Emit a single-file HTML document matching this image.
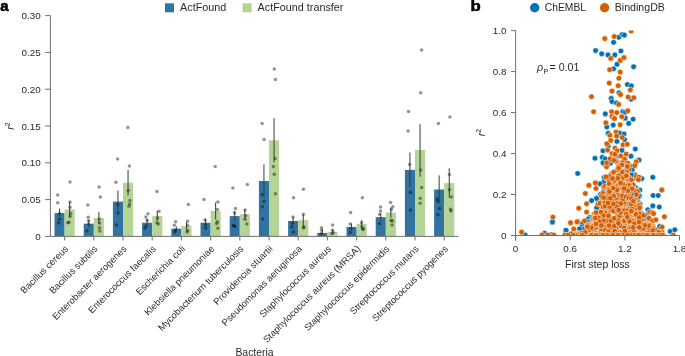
<!DOCTYPE html>
<html><head><meta charset="utf-8"><style>
html,body{margin:0;padding:0;background:#fff;width:685px;height:356px;overflow:hidden;}
</style></head><body>
<svg width="685" height="356" viewBox="0 0 685 356" style="position:absolute;left:0;top:0;font-family:'Liberation Sans', sans-serif;will-change:transform">
<rect width="685" height="356" fill="#fff"/>
<text x="0.3" y="10.9" font-size="15" font-weight="bold" fill="#000" stroke="#000" stroke-width="0.6">a</text>
<rect x="165" y="3.3" width="9" height="9" fill="#3274a1"/>
<text x="180.1" y="11.1" font-size="10.8" fill="#2a2a2a">ActFound</text>
<rect x="242.5" y="3.3" width="9.2" height="9" fill="#b3d495"/>
<text x="257.6" y="11.1" font-size="10.8" fill="#2a2a2a">ActFound transfer</text>
<rect x="54.50" y="213.10" width="10.1" height="23.30" fill="#3274a1"/>
<rect x="64.60" y="209.40" width="10.1" height="27.00" fill="#b3d495"/>
<rect x="83.70" y="223.70" width="10.1" height="12.70" fill="#3274a1"/>
<rect x="93.80" y="218.00" width="10.1" height="18.40" fill="#b3d495"/>
<rect x="112.90" y="201.60" width="10.1" height="34.80" fill="#3274a1"/>
<rect x="123.00" y="182.70" width="10.1" height="53.70" fill="#b3d495"/>
<rect x="142.10" y="222.70" width="10.1" height="13.70" fill="#3274a1"/>
<rect x="152.20" y="215.90" width="10.1" height="20.50" fill="#b3d495"/>
<rect x="171.30" y="228.60" width="10.1" height="7.80" fill="#3274a1"/>
<rect x="181.40" y="226.00" width="10.1" height="10.40" fill="#b3d495"/>
<rect x="200.50" y="222.70" width="10.1" height="13.70" fill="#3274a1"/>
<rect x="210.60" y="210.90" width="10.1" height="25.50" fill="#b3d495"/>
<rect x="229.70" y="216.10" width="10.1" height="20.30" fill="#3274a1"/>
<rect x="239.80" y="214.30" width="10.1" height="22.10" fill="#b3d495"/>
<rect x="258.90" y="181.00" width="10.1" height="55.40" fill="#3274a1"/>
<rect x="269.00" y="140.30" width="10.1" height="96.10" fill="#b3d495"/>
<rect x="288.10" y="221.00" width="10.1" height="15.40" fill="#3274a1"/>
<rect x="298.20" y="220.20" width="10.1" height="16.20" fill="#b3d495"/>
<rect x="317.30" y="233.00" width="10.1" height="3.40" fill="#3274a1"/>
<rect x="327.40" y="232.00" width="10.1" height="4.40" fill="#b3d495"/>
<rect x="346.50" y="226.90" width="10.1" height="9.50" fill="#3274a1"/>
<rect x="356.60" y="223.90" width="10.1" height="12.50" fill="#b3d495"/>
<rect x="375.70" y="217.10" width="10.1" height="19.30" fill="#3274a1"/>
<rect x="385.80" y="212.60" width="10.1" height="23.80" fill="#b3d495"/>
<rect x="404.90" y="169.90" width="10.1" height="66.50" fill="#3274a1"/>
<rect x="415.00" y="150.00" width="10.1" height="86.40" fill="#b3d495"/>
<rect x="434.10" y="189.50" width="10.1" height="46.90" fill="#3274a1"/>
<rect x="444.20" y="183.10" width="10.1" height="53.30" fill="#b3d495"/>
<circle cx="57.7" cy="194.9" r="1.75" fill="#000" fill-opacity="0.42"/>
<circle cx="57.7" cy="202.8" r="1.75" fill="#000" fill-opacity="0.42"/>
<circle cx="59.6" cy="213.6" r="1.75" fill="#000" fill-opacity="0.42"/>
<circle cx="59.6" cy="219.3" r="1.75" fill="#000" fill-opacity="0.42"/>
<circle cx="58.7" cy="222.9" r="1.75" fill="#000" fill-opacity="0.42"/>
<circle cx="70" cy="181.9" r="1.75" fill="#000" fill-opacity="0.42"/>
<circle cx="70" cy="202" r="1.75" fill="#000" fill-opacity="0.42"/>
<circle cx="70" cy="207.2" r="1.75" fill="#000" fill-opacity="0.42"/>
<circle cx="70.5" cy="213.6" r="1.75" fill="#000" fill-opacity="0.42"/>
<circle cx="70" cy="216.6" r="1.75" fill="#000" fill-opacity="0.42"/>
<circle cx="69" cy="222.2" r="1.75" fill="#000" fill-opacity="0.42"/>
<circle cx="67.8" cy="222.8" r="1.75" fill="#000" fill-opacity="0.42"/>
<circle cx="87.8" cy="205" r="1.75" fill="#000" fill-opacity="0.42"/>
<circle cx="88.2" cy="217.2" r="1.75" fill="#000" fill-opacity="0.42"/>
<circle cx="88.5" cy="220.8" r="1.75" fill="#000" fill-opacity="0.42"/>
<circle cx="88.5" cy="224" r="1.75" fill="#000" fill-opacity="0.42"/>
<circle cx="86.9" cy="231" r="1.75" fill="#000" fill-opacity="0.42"/>
<circle cx="99.1" cy="186.9" r="1.75" fill="#000" fill-opacity="0.42"/>
<circle cx="100.4" cy="197.1" r="1.75" fill="#000" fill-opacity="0.42"/>
<circle cx="99.3" cy="219" r="1.75" fill="#000" fill-opacity="0.42"/>
<circle cx="99.5" cy="223" r="1.75" fill="#000" fill-opacity="0.42"/>
<circle cx="99.5" cy="227.8" r="1.75" fill="#000" fill-opacity="0.42"/>
<circle cx="99.8" cy="231" r="1.75" fill="#000" fill-opacity="0.42"/>
<circle cx="117.6" cy="159" r="1.75" fill="#000" fill-opacity="0.42"/>
<circle cx="115.9" cy="182.2" r="1.75" fill="#000" fill-opacity="0.42"/>
<circle cx="117.8" cy="204.5" r="1.75" fill="#000" fill-opacity="0.42"/>
<circle cx="118.1" cy="213" r="1.75" fill="#000" fill-opacity="0.42"/>
<circle cx="116.4" cy="224.9" r="1.75" fill="#000" fill-opacity="0.42"/>
<circle cx="127.9" cy="127.6" r="1.75" fill="#000" fill-opacity="0.42"/>
<circle cx="129.4" cy="166" r="1.75" fill="#000" fill-opacity="0.42"/>
<circle cx="128.2" cy="190.6" r="1.75" fill="#000" fill-opacity="0.42"/>
<circle cx="129.9" cy="200.4" r="1.75" fill="#000" fill-opacity="0.42"/>
<circle cx="129.6" cy="204.1" r="1.75" fill="#000" fill-opacity="0.42"/>
<circle cx="129" cy="206.3" r="1.75" fill="#000" fill-opacity="0.42"/>
<circle cx="148" cy="213.7" r="1.75" fill="#000" fill-opacity="0.42"/>
<circle cx="145.9" cy="217.1" r="1.75" fill="#000" fill-opacity="0.42"/>
<circle cx="147.1" cy="220.2" r="1.75" fill="#000" fill-opacity="0.42"/>
<circle cx="146" cy="226" r="1.75" fill="#000" fill-opacity="0.42"/>
<circle cx="144.8" cy="228.3" r="1.75" fill="#000" fill-opacity="0.42"/>
<circle cx="156.9" cy="191.5" r="1.75" fill="#000" fill-opacity="0.42"/>
<circle cx="159" cy="211.2" r="1.75" fill="#000" fill-opacity="0.42"/>
<circle cx="156.9" cy="222.7" r="1.75" fill="#000" fill-opacity="0.42"/>
<circle cx="158.2" cy="223.9" r="1.75" fill="#000" fill-opacity="0.42"/>
<circle cx="157.5" cy="218" r="1.75" fill="#000" fill-opacity="0.42"/>
<circle cx="175.6" cy="221.8" r="1.75" fill="#000" fill-opacity="0.42"/>
<circle cx="174.4" cy="225.2" r="1.75" fill="#000" fill-opacity="0.42"/>
<circle cx="175.6" cy="230.3" r="1.75" fill="#000" fill-opacity="0.42"/>
<circle cx="174.8" cy="232" r="1.75" fill="#000" fill-opacity="0.42"/>
<circle cx="188.4" cy="204.5" r="1.75" fill="#000" fill-opacity="0.42"/>
<circle cx="187.6" cy="221.3" r="1.75" fill="#000" fill-opacity="0.42"/>
<circle cx="187.6" cy="225.2" r="1.75" fill="#000" fill-opacity="0.42"/>
<circle cx="187.6" cy="230.6" r="1.75" fill="#000" fill-opacity="0.42"/>
<circle cx="187" cy="232" r="1.75" fill="#000" fill-opacity="0.42"/>
<circle cx="203.9" cy="199.4" r="1.75" fill="#000" fill-opacity="0.42"/>
<circle cx="205.6" cy="224.9" r="1.75" fill="#000" fill-opacity="0.42"/>
<circle cx="205.6" cy="228.3" r="1.75" fill="#000" fill-opacity="0.42"/>
<circle cx="205" cy="220" r="1.75" fill="#000" fill-opacity="0.42"/>
<circle cx="215.2" cy="166.4" r="1.75" fill="#000" fill-opacity="0.42"/>
<circle cx="217.9" cy="202.1" r="1.75" fill="#000" fill-opacity="0.42"/>
<circle cx="217.4" cy="209.5" r="1.75" fill="#000" fill-opacity="0.42"/>
<circle cx="217.4" cy="221.8" r="1.75" fill="#000" fill-opacity="0.42"/>
<circle cx="216.6" cy="223.5" r="1.75" fill="#000" fill-opacity="0.42"/>
<circle cx="217.9" cy="228.3" r="1.75" fill="#000" fill-opacity="0.42"/>
<circle cx="232.9" cy="188.1" r="1.75" fill="#000" fill-opacity="0.42"/>
<circle cx="235.5" cy="208.4" r="1.75" fill="#000" fill-opacity="0.42"/>
<circle cx="234.5" cy="212.9" r="1.75" fill="#000" fill-opacity="0.42"/>
<circle cx="233.3" cy="225.2" r="1.75" fill="#000" fill-opacity="0.42"/>
<circle cx="234.1" cy="226" r="1.75" fill="#000" fill-opacity="0.42"/>
<circle cx="235" cy="226.6" r="1.75" fill="#000" fill-opacity="0.42"/>
<circle cx="247.3" cy="184.4" r="1.75" fill="#000" fill-opacity="0.42"/>
<circle cx="245.1" cy="210" r="1.75" fill="#000" fill-opacity="0.42"/>
<circle cx="245.6" cy="215.4" r="1.75" fill="#000" fill-opacity="0.42"/>
<circle cx="245.1" cy="219.3" r="1.75" fill="#000" fill-opacity="0.42"/>
<circle cx="246.8" cy="223.9" r="1.75" fill="#000" fill-opacity="0.42"/>
<circle cx="262.1" cy="123.4" r="1.75" fill="#000" fill-opacity="0.42"/>
<circle cx="264.1" cy="139.6" r="1.75" fill="#000" fill-opacity="0.42"/>
<circle cx="262.4" cy="194.5" r="1.75" fill="#000" fill-opacity="0.42"/>
<circle cx="264" cy="201.6" r="1.75" fill="#000" fill-opacity="0.42"/>
<circle cx="262.4" cy="206.7" r="1.75" fill="#000" fill-opacity="0.42"/>
<circle cx="262.8" cy="219" r="1.75" fill="#000" fill-opacity="0.42"/>
<circle cx="274.3" cy="69" r="1.75" fill="#000" fill-opacity="0.42"/>
<circle cx="275.4" cy="79.4" r="1.75" fill="#000" fill-opacity="0.42"/>
<circle cx="275.1" cy="158.5" r="1.75" fill="#000" fill-opacity="0.42"/>
<circle cx="273.4" cy="166.6" r="1.75" fill="#000" fill-opacity="0.42"/>
<circle cx="274.3" cy="174.2" r="1.75" fill="#000" fill-opacity="0.42"/>
<circle cx="275.4" cy="193.7" r="1.75" fill="#000" fill-opacity="0.42"/>
<circle cx="293.5" cy="197.7" r="1.75" fill="#000" fill-opacity="0.42"/>
<circle cx="293" cy="217.1" r="1.75" fill="#000" fill-opacity="0.42"/>
<circle cx="292.5" cy="223.2" r="1.75" fill="#000" fill-opacity="0.42"/>
<circle cx="291.8" cy="226.9" r="1.75" fill="#000" fill-opacity="0.42"/>
<circle cx="293.5" cy="232" r="1.75" fill="#000" fill-opacity="0.42"/>
<circle cx="303.4" cy="189.3" r="1.75" fill="#000" fill-opacity="0.42"/>
<circle cx="303.4" cy="214.3" r="1.75" fill="#000" fill-opacity="0.42"/>
<circle cx="303.9" cy="226.9" r="1.75" fill="#000" fill-opacity="0.42"/>
<circle cx="303.4" cy="227.7" r="1.75" fill="#000" fill-opacity="0.42"/>
<circle cx="321.6" cy="227.7" r="1.75" fill="#000" fill-opacity="0.42"/>
<circle cx="321.6" cy="230.3" r="1.75" fill="#000" fill-opacity="0.42"/>
<circle cx="321.1" cy="233.6" r="1.75" fill="#000" fill-opacity="0.42"/>
<circle cx="332.6" cy="224.9" r="1.75" fill="#000" fill-opacity="0.42"/>
<circle cx="332.6" cy="230.3" r="1.75" fill="#000" fill-opacity="0.42"/>
<circle cx="333.4" cy="232.8" r="1.75" fill="#000" fill-opacity="0.42"/>
<circle cx="331.9" cy="233.6" r="1.75" fill="#000" fill-opacity="0.42"/>
<circle cx="350.6" cy="212.6" r="1.75" fill="#000" fill-opacity="0.42"/>
<circle cx="350.1" cy="223.9" r="1.75" fill="#000" fill-opacity="0.42"/>
<circle cx="351" cy="228.6" r="1.75" fill="#000" fill-opacity="0.42"/>
<circle cx="350.5" cy="232.5" r="1.75" fill="#000" fill-opacity="0.42"/>
<circle cx="362.4" cy="197.7" r="1.75" fill="#000" fill-opacity="0.42"/>
<circle cx="361.6" cy="222.7" r="1.75" fill="#000" fill-opacity="0.42"/>
<circle cx="361.9" cy="226.9" r="1.75" fill="#000" fill-opacity="0.42"/>
<circle cx="362.8" cy="229.4" r="1.75" fill="#000" fill-opacity="0.42"/>
<circle cx="363.3" cy="228.8" r="1.75" fill="#000" fill-opacity="0.42"/>
<circle cx="380.5" cy="207" r="1.75" fill="#000" fill-opacity="0.42"/>
<circle cx="380.5" cy="210.9" r="1.75" fill="#000" fill-opacity="0.42"/>
<circle cx="379.6" cy="214.3" r="1.75" fill="#000" fill-opacity="0.42"/>
<circle cx="379.6" cy="223.5" r="1.75" fill="#000" fill-opacity="0.42"/>
<circle cx="390.6" cy="202.5" r="1.75" fill="#000" fill-opacity="0.42"/>
<circle cx="392.8" cy="206.7" r="1.75" fill="#000" fill-opacity="0.42"/>
<circle cx="391.4" cy="209.5" r="1.75" fill="#000" fill-opacity="0.42"/>
<circle cx="391.1" cy="220.5" r="1.75" fill="#000" fill-opacity="0.42"/>
<circle cx="392.3" cy="221" r="1.75" fill="#000" fill-opacity="0.42"/>
<circle cx="392" cy="224.9" r="1.75" fill="#000" fill-opacity="0.42"/>
<circle cx="408.5" cy="111.5" r="1.75" fill="#000" fill-opacity="0.42"/>
<circle cx="408.1" cy="131" r="1.75" fill="#000" fill-opacity="0.42"/>
<circle cx="409.6" cy="164.4" r="1.75" fill="#000" fill-opacity="0.42"/>
<circle cx="410.5" cy="192.3" r="1.75" fill="#000" fill-opacity="0.42"/>
<circle cx="410.5" cy="210" r="1.75" fill="#000" fill-opacity="0.42"/>
<circle cx="421.6" cy="50.1" r="1.75" fill="#000" fill-opacity="0.42"/>
<circle cx="420.7" cy="92.8" r="1.75" fill="#000" fill-opacity="0.42"/>
<circle cx="420.6" cy="170" r="1.75" fill="#000" fill-opacity="0.42"/>
<circle cx="421.6" cy="187.6" r="1.75" fill="#000" fill-opacity="0.42"/>
<circle cx="420.2" cy="198.2" r="1.75" fill="#000" fill-opacity="0.42"/>
<circle cx="420.2" cy="203.3" r="1.75" fill="#000" fill-opacity="0.42"/>
<circle cx="438.4" cy="123.6" r="1.75" fill="#000" fill-opacity="0.42"/>
<circle cx="437.4" cy="199.1" r="1.75" fill="#000" fill-opacity="0.42"/>
<circle cx="437.9" cy="201.6" r="1.75" fill="#000" fill-opacity="0.42"/>
<circle cx="439.6" cy="208.4" r="1.75" fill="#000" fill-opacity="0.42"/>
<circle cx="438" cy="214.8" r="1.75" fill="#000" fill-opacity="0.42"/>
<circle cx="449.9" cy="116.9" r="1.75" fill="#000" fill-opacity="0.42"/>
<circle cx="449.4" cy="174.5" r="1.75" fill="#000" fill-opacity="0.42"/>
<circle cx="449.4" cy="189.8" r="1.75" fill="#000" fill-opacity="0.42"/>
<circle cx="451.4" cy="197" r="1.75" fill="#000" fill-opacity="0.42"/>
<circle cx="450.6" cy="209.2" r="1.75" fill="#000" fill-opacity="0.42"/>
<circle cx="450.9" cy="210.9" r="1.75" fill="#000" fill-opacity="0.42"/>
<line x1="59.55" x2="59.55" y1="208.6" y2="217.4" stroke="#3a3a3a" stroke-width="1.0"/>
<line x1="69.65" x2="69.65" y1="202.0" y2="216.8" stroke="#3a3a3a" stroke-width="1.0"/>
<line x1="88.75" x2="88.75" y1="220" y2="227.3" stroke="#3a3a3a" stroke-width="1.0"/>
<line x1="98.85" x2="98.85" y1="211.8" y2="224.2" stroke="#3a3a3a" stroke-width="1.0"/>
<line x1="117.95" x2="117.95" y1="190.6" y2="212.6" stroke="#3a3a3a" stroke-width="1.0"/>
<line x1="128.05" x2="128.05" y1="170" y2="195.4" stroke="#3a3a3a" stroke-width="1.0"/>
<line x1="147.15" x2="147.15" y1="219" y2="226.5" stroke="#3a3a3a" stroke-width="1.0"/>
<line x1="157.25" x2="157.25" y1="210.9" y2="221" stroke="#3a3a3a" stroke-width="1.0"/>
<line x1="176.35" x2="176.35" y1="226.6" y2="230.6" stroke="#3a3a3a" stroke-width="1.0"/>
<line x1="186.45" x2="186.45" y1="222.2" y2="229.8" stroke="#3a3a3a" stroke-width="1.0"/>
<line x1="205.55" x2="205.55" y1="218.5" y2="226.9" stroke="#3a3a3a" stroke-width="1.0"/>
<line x1="215.65" x2="215.65" y1="202.5" y2="219.3" stroke="#3a3a3a" stroke-width="1.0"/>
<line x1="234.75" x2="234.75" y1="210.9" y2="221.3" stroke="#3a3a3a" stroke-width="1.0"/>
<line x1="244.85" x2="244.85" y1="209.2" y2="219.4" stroke="#3a3a3a" stroke-width="1.0"/>
<line x1="263.95" x2="263.95" y1="164.4" y2="197.6" stroke="#3a3a3a" stroke-width="1.0"/>
<line x1="274.05" x2="274.05" y1="118.2" y2="162.4" stroke="#3a3a3a" stroke-width="1.0"/>
<line x1="293.15" x2="293.15" y1="216.8" y2="225.2" stroke="#3a3a3a" stroke-width="1.0"/>
<line x1="303.25" x2="303.25" y1="214.3" y2="226.1" stroke="#3a3a3a" stroke-width="1.0"/>
<line x1="322.35" x2="322.35" y1="229.6" y2="236" stroke="#3a3a3a" stroke-width="1.0"/>
<line x1="332.45" x2="332.45" y1="229.4" y2="234.6" stroke="#3a3a3a" stroke-width="1.0"/>
<line x1="351.55" x2="351.55" y1="223.5" y2="230.3" stroke="#3a3a3a" stroke-width="1.0"/>
<line x1="361.65" x2="361.65" y1="220.2" y2="227.6" stroke="#3a3a3a" stroke-width="1.0"/>
<line x1="380.75" x2="380.75" y1="213.4" y2="220.8" stroke="#3a3a3a" stroke-width="1.0"/>
<line x1="390.85" x2="390.85" y1="207.3" y2="217.9" stroke="#3a3a3a" stroke-width="1.0"/>
<line x1="409.95" x2="409.95" y1="152.6" y2="186.8" stroke="#3a3a3a" stroke-width="1.0"/>
<line x1="420.05" x2="420.05" y1="124.2" y2="176.7" stroke="#3a3a3a" stroke-width="1.0"/>
<line x1="439.15" x2="439.15" y1="175.3" y2="203.6" stroke="#3a3a3a" stroke-width="1.0"/>
<line x1="449.25" x2="449.25" y1="168.3" y2="197.7" stroke="#3a3a3a" stroke-width="1.0"/>
<line x1="50.4" x2="50.4" y1="15.6" y2="236.4" stroke="#707070" stroke-width="1"/>
<line x1="50.4" x2="458.5" y1="236.4" y2="236.4" stroke="#707070" stroke-width="1"/>
<line x1="45.2" x2="50.4" y1="236.40" y2="236.40" stroke="#707070" stroke-width="1"/>
<text x="40.7" y="239.90" font-size="9.9" text-anchor="end" fill="#2a2a2a">0</text>
<line x1="45.2" x2="50.4" y1="199.60" y2="199.60" stroke="#707070" stroke-width="1"/>
<text x="40.7" y="203.10" font-size="9.9" text-anchor="end" fill="#2a2a2a">0.05</text>
<line x1="45.2" x2="50.4" y1="162.80" y2="162.80" stroke="#707070" stroke-width="1"/>
<text x="40.7" y="166.30" font-size="9.9" text-anchor="end" fill="#2a2a2a">0.10</text>
<line x1="45.2" x2="50.4" y1="126.00" y2="126.00" stroke="#707070" stroke-width="1"/>
<text x="40.7" y="129.50" font-size="9.9" text-anchor="end" fill="#2a2a2a">0.15</text>
<line x1="45.2" x2="50.4" y1="89.20" y2="89.20" stroke="#707070" stroke-width="1"/>
<text x="40.7" y="92.70" font-size="9.9" text-anchor="end" fill="#2a2a2a">0.20</text>
<line x1="45.2" x2="50.4" y1="52.40" y2="52.40" stroke="#707070" stroke-width="1"/>
<text x="40.7" y="55.90" font-size="9.9" text-anchor="end" fill="#2a2a2a">0.25</text>
<line x1="45.2" x2="50.4" y1="15.60" y2="15.60" stroke="#707070" stroke-width="1"/>
<text x="40.7" y="19.10" font-size="9.9" text-anchor="end" fill="#2a2a2a">0.30</text>
<line x1="64.60" x2="64.60" y1="236.4" y2="240.4" stroke="#707070" stroke-width="1"/>
<text transform="translate(68.90,249.4) rotate(-45)" font-size="9.4" text-anchor="end" fill="#2a2a2a">Bacillus cereus</text>
<line x1="93.80" x2="93.80" y1="236.4" y2="240.4" stroke="#707070" stroke-width="1"/>
<text transform="translate(98.10,249.4) rotate(-45)" font-size="9.4" text-anchor="end" fill="#2a2a2a">Bacillus subtilis</text>
<line x1="123.00" x2="123.00" y1="236.4" y2="240.4" stroke="#707070" stroke-width="1"/>
<text transform="translate(127.30,249.4) rotate(-45)" font-size="9.4" text-anchor="end" fill="#2a2a2a">Enterobacter aerogenes</text>
<line x1="152.20" x2="152.20" y1="236.4" y2="240.4" stroke="#707070" stroke-width="1"/>
<text transform="translate(156.50,249.4) rotate(-45)" font-size="9.4" text-anchor="end" fill="#2a2a2a">Enterococcus faecalis</text>
<line x1="181.40" x2="181.40" y1="236.4" y2="240.4" stroke="#707070" stroke-width="1"/>
<text transform="translate(185.70,249.4) rotate(-45)" font-size="9.4" text-anchor="end" fill="#2a2a2a">Escherichia coli</text>
<line x1="210.60" x2="210.60" y1="236.4" y2="240.4" stroke="#707070" stroke-width="1"/>
<text transform="translate(214.90,249.4) rotate(-45)" font-size="9.4" text-anchor="end" fill="#2a2a2a">Klebsiella pneumoniae</text>
<line x1="239.80" x2="239.80" y1="236.4" y2="240.4" stroke="#707070" stroke-width="1"/>
<text transform="translate(244.10,249.4) rotate(-45)" font-size="9.4" text-anchor="end" fill="#2a2a2a">Mycobacterium tuberculosis</text>
<line x1="269.00" x2="269.00" y1="236.4" y2="240.4" stroke="#707070" stroke-width="1"/>
<text transform="translate(273.30,249.4) rotate(-45)" font-size="9.4" text-anchor="end" fill="#2a2a2a">Providencia stuartii</text>
<line x1="298.20" x2="298.20" y1="236.4" y2="240.4" stroke="#707070" stroke-width="1"/>
<text transform="translate(302.50,249.4) rotate(-45)" font-size="9.4" text-anchor="end" fill="#2a2a2a">Pseudomonas aeruginosa</text>
<line x1="327.40" x2="327.40" y1="236.4" y2="240.4" stroke="#707070" stroke-width="1"/>
<text transform="translate(331.70,249.4) rotate(-45)" font-size="9.4" text-anchor="end" fill="#2a2a2a">Staphylococcus aureus</text>
<line x1="356.60" x2="356.60" y1="236.4" y2="240.4" stroke="#707070" stroke-width="1"/>
<text transform="translate(360.90,249.4) rotate(-45)" font-size="9.4" text-anchor="end" fill="#2a2a2a">Staphylococcus aureus (MRSA)</text>
<line x1="385.80" x2="385.80" y1="236.4" y2="240.4" stroke="#707070" stroke-width="1"/>
<text transform="translate(390.10,249.4) rotate(-45)" font-size="9.4" text-anchor="end" fill="#2a2a2a">Staphylococcus epidermidis</text>
<line x1="415.00" x2="415.00" y1="236.4" y2="240.4" stroke="#707070" stroke-width="1"/>
<text transform="translate(419.30,249.4) rotate(-45)" font-size="9.4" text-anchor="end" fill="#2a2a2a">Streptococcus mutans</text>
<line x1="444.20" x2="444.20" y1="236.4" y2="240.4" stroke="#707070" stroke-width="1"/>
<text transform="translate(448.50,249.4) rotate(-45)" font-size="9.4" text-anchor="end" fill="#2a2a2a">Streptococcus pyogenes</text>
<text x="254.5" y="355.5" font-size="10.4" text-anchor="middle" fill="#2a2a2a">Bacteria</text>
<text transform="translate(13.9,129.8) rotate(-90)" font-size="10.8" fill="#2a2a2a"><tspan font-style="italic">r</tspan><tspan font-size="7" dy="-4.2">2</tspan></text>
<text transform="translate(470.6,11.1) scale(1.12,1)" font-size="15" font-weight="bold" fill="#000" stroke="#000" stroke-width="0.5">b</text>
<circle cx="534.7" cy="7.8" r="4.7" fill="#0072b2"/>
<text x="544.8" y="11.2" font-size="10.3" fill="#2a2a2a">ChEMBL</text>
<circle cx="604.6" cy="7.8" r="4.7" fill="#d55e00"/>
<text x="614.8" y="11.2" font-size="10.6" fill="#2a2a2a">BindingDB</text>
<defs><clipPath id="cp"><rect x="515.6" y="30.6" width="163.89999999999998" height="204.9"/></clipPath></defs>
<g clip-path="url(#cp)" stroke="#fff" stroke-width="0.5">
<circle cx="625.2" cy="184.5" r="2.8" fill="#0072b2"/>
<circle cx="619.4" cy="187.7" r="2.8" fill="#0072b2"/>
<circle cx="655.5" cy="234.0" r="2.8" fill="#0072b2"/>
<circle cx="603.5" cy="182.0" r="2.8" fill="#0072b2"/>
<circle cx="623.9" cy="221.9" r="2.8" fill="#0072b2"/>
<circle cx="620.7" cy="208.4" r="2.8" fill="#0072b2"/>
<circle cx="606.3" cy="164.8" r="2.8" fill="#0072b2"/>
<circle cx="607.4" cy="211.6" r="2.8" fill="#0072b2"/>
<circle cx="622.4" cy="213.0" r="2.8" fill="#0072b2"/>
<circle cx="647.6" cy="215.3" r="2.8" fill="#0072b2"/>
<circle cx="634.1" cy="226.4" r="2.8" fill="#0072b2"/>
<circle cx="634.7" cy="231.6" r="2.8" fill="#0072b2"/>
<circle cx="609.9" cy="222.3" r="2.8" fill="#0072b2"/>
<circle cx="615.9" cy="210.7" r="2.8" fill="#0072b2"/>
<circle cx="588.6" cy="232.6" r="2.8" fill="#0072b2"/>
<circle cx="615.5" cy="179.9" r="2.8" fill="#0072b2"/>
<circle cx="621.0" cy="232.2" r="2.8" fill="#0072b2"/>
<circle cx="611.1" cy="220.5" r="2.8" fill="#0072b2"/>
<circle cx="606.5" cy="164.7" r="2.8" fill="#0072b2"/>
<circle cx="604.3" cy="164.0" r="2.8" fill="#0072b2"/>
<circle cx="635.3" cy="187.6" r="2.8" fill="#0072b2"/>
<circle cx="618.6" cy="235.3" r="2.8" fill="#0072b2"/>
<circle cx="620.7" cy="200.0" r="2.8" fill="#0072b2"/>
<circle cx="639.5" cy="234.2" r="2.8" fill="#0072b2"/>
<circle cx="593.0" cy="232.4" r="2.8" fill="#0072b2"/>
<circle cx="629.1" cy="220.6" r="2.8" fill="#0072b2"/>
<circle cx="640.4" cy="229.0" r="2.8" fill="#0072b2"/>
<circle cx="632.5" cy="196.2" r="2.8" fill="#0072b2"/>
<circle cx="610.2" cy="233.7" r="2.8" fill="#0072b2"/>
<circle cx="588.5" cy="231.8" r="2.8" fill="#0072b2"/>
<circle cx="605.1" cy="234.3" r="2.8" fill="#0072b2"/>
<circle cx="653.0" cy="230.8" r="2.8" fill="#0072b2"/>
<circle cx="600.1" cy="222.6" r="2.8" fill="#0072b2"/>
<circle cx="614.2" cy="204.5" r="2.8" fill="#0072b2"/>
<circle cx="615.7" cy="199.7" r="2.8" fill="#0072b2"/>
<circle cx="630.0" cy="173.9" r="2.8" fill="#0072b2"/>
<circle cx="622.1" cy="218.5" r="2.8" fill="#0072b2"/>
<circle cx="654.1" cy="231.4" r="2.8" fill="#0072b2"/>
<circle cx="624.8" cy="231.4" r="2.8" fill="#0072b2"/>
<circle cx="585.6" cy="231.5" r="2.8" fill="#0072b2"/>
<circle cx="585.7" cy="235.0" r="2.8" fill="#0072b2"/>
<circle cx="611.3" cy="185.7" r="2.8" fill="#0072b2"/>
<circle cx="621.3" cy="214.7" r="2.8" fill="#0072b2"/>
<circle cx="611.3" cy="193.4" r="2.8" fill="#0072b2"/>
<circle cx="615.6" cy="180.5" r="2.8" fill="#0072b2"/>
<circle cx="642.7" cy="220.8" r="2.8" fill="#0072b2"/>
<circle cx="619.7" cy="180.3" r="2.8" fill="#0072b2"/>
<circle cx="605.4" cy="178.1" r="2.8" fill="#0072b2"/>
<circle cx="617.2" cy="201.8" r="2.8" fill="#0072b2"/>
<circle cx="648.3" cy="230.8" r="2.8" fill="#0072b2"/>
<circle cx="618.7" cy="223.3" r="2.8" fill="#0072b2"/>
<circle cx="601.0" cy="226.0" r="2.8" fill="#0072b2"/>
<circle cx="616.4" cy="194.8" r="2.8" fill="#0072b2"/>
<circle cx="594.7" cy="233.7" r="2.8" fill="#0072b2"/>
<circle cx="605.8" cy="233.2" r="2.8" fill="#0072b2"/>
<circle cx="610.4" cy="163.2" r="2.8" fill="#0072b2"/>
<circle cx="604.3" cy="226.6" r="2.8" fill="#0072b2"/>
<circle cx="642.7" cy="234.6" r="2.8" fill="#0072b2"/>
<circle cx="636.2" cy="208.8" r="2.8" fill="#0072b2"/>
<circle cx="637.9" cy="227.6" r="2.8" fill="#0072b2"/>
<circle cx="619.8" cy="221.6" r="2.8" fill="#0072b2"/>
<circle cx="604.3" cy="177.4" r="2.8" fill="#0072b2"/>
<circle cx="632.9" cy="197.1" r="2.8" fill="#0072b2"/>
<circle cx="609.5" cy="179.1" r="2.8" fill="#0072b2"/>
<circle cx="632.8" cy="215.3" r="2.8" fill="#0072b2"/>
<circle cx="608.3" cy="234.0" r="2.8" fill="#0072b2"/>
<circle cx="599.0" cy="208.7" r="2.8" fill="#0072b2"/>
<circle cx="609.3" cy="160.9" r="2.8" fill="#0072b2"/>
<circle cx="618.9" cy="211.2" r="2.8" fill="#0072b2"/>
<circle cx="615.5" cy="231.0" r="2.8" fill="#0072b2"/>
<circle cx="605.5" cy="194.1" r="2.8" fill="#0072b2"/>
<circle cx="627.0" cy="231.7" r="2.8" fill="#0072b2"/>
<circle cx="649.8" cy="232.2" r="2.8" fill="#0072b2"/>
<circle cx="641.5" cy="213.3" r="2.8" fill="#0072b2"/>
<circle cx="617.7" cy="161.9" r="2.8" fill="#0072b2"/>
<circle cx="650.2" cy="223.6" r="2.8" fill="#0072b2"/>
<circle cx="607.7" cy="228.3" r="2.8" fill="#0072b2"/>
<circle cx="614.6" cy="204.7" r="2.8" fill="#0072b2"/>
<circle cx="612.6" cy="198.7" r="2.8" fill="#0072b2"/>
<circle cx="649.3" cy="232.5" r="2.8" fill="#0072b2"/>
<circle cx="639.6" cy="231.3" r="2.8" fill="#0072b2"/>
<circle cx="604.1" cy="189.9" r="2.8" fill="#0072b2"/>
<circle cx="604.7" cy="194.1" r="2.8" fill="#0072b2"/>
<circle cx="611.3" cy="227.3" r="2.8" fill="#0072b2"/>
<circle cx="620.1" cy="233.4" r="2.8" fill="#0072b2"/>
<circle cx="625.9" cy="161.7" r="2.8" fill="#0072b2"/>
<circle cx="625.8" cy="227.9" r="2.8" fill="#0072b2"/>
<circle cx="650.9" cy="230.3" r="2.8" fill="#0072b2"/>
<circle cx="581.4" cy="233.7" r="2.8" fill="#0072b2"/>
<circle cx="621.3" cy="218.0" r="2.8" fill="#0072b2"/>
<circle cx="597.9" cy="208.9" r="2.8" fill="#0072b2"/>
<circle cx="619.1" cy="168.5" r="2.8" fill="#0072b2"/>
<circle cx="606.9" cy="196.0" r="2.8" fill="#0072b2"/>
<circle cx="601.1" cy="232.8" r="2.8" fill="#0072b2"/>
<circle cx="604.3" cy="211.1" r="2.8" fill="#0072b2"/>
<circle cx="612.2" cy="177.2" r="2.8" fill="#0072b2"/>
<circle cx="609.4" cy="231.9" r="2.8" fill="#0072b2"/>
<circle cx="590.6" cy="230.6" r="2.8" fill="#0072b2"/>
<circle cx="617.9" cy="192.8" r="2.8" fill="#0072b2"/>
<circle cx="611.0" cy="228.0" r="2.8" fill="#0072b2"/>
<circle cx="599.3" cy="228.1" r="2.8" fill="#0072b2"/>
<circle cx="596.9" cy="232.6" r="2.8" fill="#0072b2"/>
<circle cx="604.4" cy="214.3" r="2.8" fill="#0072b2"/>
<circle cx="657.7" cy="229.5" r="2.8" fill="#0072b2"/>
<circle cx="616.1" cy="189.3" r="2.8" fill="#0072b2"/>
<circle cx="590.2" cy="217.1" r="2.8" fill="#0072b2"/>
<circle cx="578.0" cy="234.9" r="2.8" fill="#0072b2"/>
<circle cx="602.1" cy="213.8" r="2.8" fill="#0072b2"/>
<circle cx="589.4" cy="224.2" r="2.8" fill="#0072b2"/>
<circle cx="623.3" cy="223.7" r="2.8" fill="#0072b2"/>
<circle cx="633.4" cy="178.6" r="2.8" fill="#0072b2"/>
<circle cx="592.7" cy="235.2" r="2.8" fill="#0072b2"/>
<circle cx="617.6" cy="235.1" r="2.8" fill="#0072b2"/>
<circle cx="600.8" cy="229.3" r="2.8" fill="#0072b2"/>
<circle cx="662.3" cy="233.8" r="2.8" fill="#0072b2"/>
<circle cx="599.3" cy="225.7" r="2.8" fill="#0072b2"/>
<circle cx="611.2" cy="207.0" r="2.8" fill="#0072b2"/>
<circle cx="607.3" cy="211.4" r="2.8" fill="#0072b2"/>
<circle cx="598.7" cy="201.5" r="2.8" fill="#0072b2"/>
<circle cx="605.3" cy="212.7" r="2.8" fill="#0072b2"/>
<circle cx="629.0" cy="187.6" r="2.8" fill="#0072b2"/>
<circle cx="634.1" cy="175.4" r="2.8" fill="#0072b2"/>
<circle cx="645.7" cy="222.2" r="2.8" fill="#0072b2"/>
<circle cx="639.0" cy="196.6" r="2.8" fill="#0072b2"/>
<circle cx="646.3" cy="228.5" r="2.8" fill="#0072b2"/>
<circle cx="608.0" cy="189.1" r="2.8" fill="#0072b2"/>
<circle cx="639.8" cy="217.4" r="2.8" fill="#0072b2"/>
<circle cx="624.5" cy="193.2" r="2.8" fill="#0072b2"/>
<circle cx="631.3" cy="197.1" r="2.8" fill="#0072b2"/>
<circle cx="596.7" cy="219.1" r="2.8" fill="#0072b2"/>
<circle cx="601.4" cy="195.9" r="2.8" fill="#0072b2"/>
<circle cx="625.3" cy="198.7" r="2.8" fill="#0072b2"/>
<circle cx="588.5" cy="218.9" r="2.8" fill="#0072b2"/>
<circle cx="652.5" cy="235.5" r="2.8" fill="#0072b2"/>
<circle cx="644.1" cy="229.4" r="2.8" fill="#0072b2"/>
<circle cx="605.6" cy="230.5" r="2.8" fill="#0072b2"/>
<circle cx="643.5" cy="217.3" r="2.8" fill="#0072b2"/>
<circle cx="618.3" cy="221.8" r="2.8" fill="#0072b2"/>
<circle cx="598.0" cy="229.7" r="2.8" fill="#0072b2"/>
<circle cx="596.5" cy="198.4" r="2.8" fill="#0072b2"/>
<circle cx="638.2" cy="208.2" r="2.8" fill="#0072b2"/>
<circle cx="634.1" cy="207.7" r="2.8" fill="#0072b2"/>
<circle cx="631.9" cy="203.8" r="2.8" fill="#0072b2"/>
<circle cx="630.3" cy="193.5" r="2.8" fill="#0072b2"/>
<circle cx="636.6" cy="234.6" r="2.8" fill="#0072b2"/>
<circle cx="599.8" cy="183.7" r="2.8" fill="#0072b2"/>
<circle cx="624.7" cy="204.7" r="2.8" fill="#0072b2"/>
<circle cx="639.4" cy="196.0" r="2.8" fill="#0072b2"/>
<circle cx="623.7" cy="171.3" r="2.8" fill="#0072b2"/>
<circle cx="625.8" cy="202.6" r="2.8" fill="#0072b2"/>
<circle cx="643.0" cy="215.6" r="2.8" fill="#0072b2"/>
<circle cx="629.3" cy="178.0" r="2.8" fill="#0072b2"/>
<circle cx="591.5" cy="231.3" r="2.8" fill="#0072b2"/>
<circle cx="638.8" cy="214.2" r="2.8" fill="#0072b2"/>
<circle cx="633.3" cy="216.5" r="2.8" fill="#0072b2"/>
<circle cx="600.6" cy="194.3" r="2.8" fill="#0072b2"/>
<circle cx="625.5" cy="199.7" r="2.8" fill="#0072b2"/>
<circle cx="656.6" cy="233.2" r="2.8" fill="#0072b2"/>
<circle cx="603.2" cy="231.6" r="2.8" fill="#0072b2"/>
<circle cx="597.2" cy="226.7" r="2.8" fill="#0072b2"/>
<circle cx="635.3" cy="228.8" r="2.8" fill="#0072b2"/>
<circle cx="603.8" cy="203.2" r="2.8" fill="#0072b2"/>
<circle cx="640.0" cy="207.2" r="2.8" fill="#0072b2"/>
<circle cx="586.8" cy="230.4" r="2.8" fill="#0072b2"/>
<circle cx="625.4" cy="162.2" r="2.8" fill="#0072b2"/>
<circle cx="623.6" cy="215.8" r="2.8" fill="#0072b2"/>
<circle cx="631.9" cy="168.5" r="2.8" fill="#0072b2"/>
<circle cx="596.7" cy="207.9" r="2.8" fill="#0072b2"/>
<circle cx="606.4" cy="217.4" r="2.8" fill="#0072b2"/>
<circle cx="608.0" cy="192.1" r="2.8" fill="#0072b2"/>
<circle cx="653.7" cy="233.1" r="2.8" fill="#0072b2"/>
<circle cx="613.6" cy="206.9" r="2.8" fill="#0072b2"/>
<circle cx="636.3" cy="200.8" r="2.8" fill="#0072b2"/>
<circle cx="612.9" cy="207.6" r="2.8" fill="#0072b2"/>
<circle cx="615.2" cy="227.0" r="2.8" fill="#0072b2"/>
<circle cx="593.1" cy="227.1" r="2.8" fill="#0072b2"/>
<circle cx="592.2" cy="223.9" r="2.8" fill="#0072b2"/>
<circle cx="610.3" cy="199.6" r="2.8" fill="#0072b2"/>
<circle cx="646.5" cy="215.2" r="2.8" fill="#0072b2"/>
<circle cx="625.4" cy="193.0" r="2.8" fill="#0072b2"/>
<circle cx="614.7" cy="189.4" r="2.8" fill="#0072b2"/>
<circle cx="623.8" cy="195.1" r="2.8" fill="#0072b2"/>
<circle cx="625.1" cy="228.8" r="2.8" fill="#0072b2"/>
<circle cx="600.8" cy="216.8" r="2.8" fill="#0072b2"/>
<circle cx="629.2" cy="224.6" r="2.8" fill="#0072b2"/>
<circle cx="613.8" cy="207.6" r="2.8" fill="#0072b2"/>
<circle cx="614.0" cy="207.7" r="2.8" fill="#0072b2"/>
<circle cx="633.1" cy="230.5" r="2.8" fill="#0072b2"/>
<circle cx="617.3" cy="219.0" r="2.8" fill="#0072b2"/>
<circle cx="624.2" cy="233.9" r="2.8" fill="#0072b2"/>
<circle cx="582.4" cy="231.3" r="2.8" fill="#0072b2"/>
<circle cx="636.7" cy="231.9" r="2.8" fill="#0072b2"/>
<circle cx="609.4" cy="186.9" r="2.8" fill="#0072b2"/>
<circle cx="615.6" cy="190.3" r="2.8" fill="#0072b2"/>
<circle cx="593.4" cy="231.2" r="2.8" fill="#0072b2"/>
<circle cx="598.1" cy="220.8" r="2.8" fill="#0072b2"/>
<circle cx="621.2" cy="195.5" r="2.8" fill="#0072b2"/>
<circle cx="627.0" cy="174.1" r="2.8" fill="#0072b2"/>
<circle cx="587.9" cy="228.7" r="2.8" fill="#0072b2"/>
<circle cx="582.4" cy="223.0" r="2.8" fill="#0072b2"/>
<circle cx="595.9" cy="232.1" r="2.8" fill="#0072b2"/>
<circle cx="605.2" cy="202.1" r="2.8" fill="#0072b2"/>
<circle cx="645.2" cy="225.4" r="2.8" fill="#0072b2"/>
<circle cx="632.8" cy="232.8" r="2.8" fill="#0072b2"/>
<circle cx="624.0" cy="208.2" r="2.8" fill="#0072b2"/>
<circle cx="636.9" cy="228.0" r="2.8" fill="#0072b2"/>
<circle cx="637.4" cy="207.4" r="2.8" fill="#0072b2"/>
<circle cx="642.1" cy="222.7" r="2.8" fill="#0072b2"/>
<circle cx="648.8" cy="233.9" r="2.8" fill="#0072b2"/>
<circle cx="581.4" cy="227.1" r="2.8" fill="#0072b2"/>
<circle cx="633.0" cy="229.8" r="2.8" fill="#0072b2"/>
<circle cx="607.4" cy="229.3" r="2.8" fill="#0072b2"/>
<circle cx="608.5" cy="202.6" r="2.8" fill="#0072b2"/>
<circle cx="625.3" cy="230.8" r="2.8" fill="#0072b2"/>
<circle cx="647.6" cy="221.4" r="2.8" fill="#0072b2"/>
<circle cx="611.3" cy="234.3" r="2.8" fill="#0072b2"/>
<circle cx="624.9" cy="161.2" r="2.8" fill="#0072b2"/>
<circle cx="626.8" cy="169.8" r="2.8" fill="#0072b2"/>
<circle cx="629.1" cy="174.2" r="2.8" fill="#0072b2"/>
<circle cx="625.9" cy="215.3" r="2.8" fill="#0072b2"/>
<circle cx="623.6" cy="160.9" r="2.8" fill="#0072b2"/>
<circle cx="604.6" cy="222.0" r="2.8" fill="#0072b2"/>
<circle cx="640.3" cy="215.3" r="2.8" fill="#0072b2"/>
<circle cx="612.5" cy="196.9" r="2.8" fill="#0072b2"/>
<circle cx="634.8" cy="211.3" r="2.8" fill="#0072b2"/>
<circle cx="625.6" cy="231.6" r="2.8" fill="#0072b2"/>
<circle cx="625.9" cy="222.7" r="2.8" fill="#0072b2"/>
<circle cx="630.0" cy="234.1" r="2.8" fill="#0072b2"/>
<circle cx="633.7" cy="227.3" r="2.8" fill="#0072b2"/>
<circle cx="636.2" cy="203.4" r="2.8" fill="#0072b2"/>
<circle cx="582.6" cy="229.3" r="2.8" fill="#0072b2"/>
<circle cx="628.8" cy="230.6" r="2.8" fill="#0072b2"/>
<circle cx="633.2" cy="194.8" r="2.8" fill="#0072b2"/>
<circle cx="623.2" cy="218.5" r="2.8" fill="#0072b2"/>
<circle cx="602.4" cy="204.7" r="2.8" fill="#0072b2"/>
<circle cx="624.5" cy="219.7" r="2.8" fill="#0072b2"/>
<circle cx="575.0" cy="233.0" r="2.8" fill="#0072b2"/>
<circle cx="639.9" cy="190.1" r="2.8" fill="#0072b2"/>
<circle cx="609.4" cy="232.5" r="2.8" fill="#0072b2"/>
<circle cx="609.0" cy="176.8" r="2.8" fill="#0072b2"/>
<circle cx="584.2" cy="234.7" r="2.8" fill="#0072b2"/>
<circle cx="623.2" cy="211.3" r="2.8" fill="#0072b2"/>
<circle cx="606.7" cy="217.4" r="2.8" fill="#0072b2"/>
<circle cx="617.9" cy="179.5" r="2.8" fill="#0072b2"/>
<circle cx="635.1" cy="174.8" r="2.8" fill="#0072b2"/>
<circle cx="614.1" cy="227.4" r="2.8" fill="#0072b2"/>
<circle cx="614.6" cy="223.8" r="2.8" fill="#0072b2"/>
<circle cx="637.0" cy="201.9" r="2.8" fill="#0072b2"/>
<circle cx="608.8" cy="191.2" r="2.8" fill="#0072b2"/>
<circle cx="593.3" cy="223.6" r="2.8" fill="#0072b2"/>
<circle cx="638.0" cy="197.2" r="2.8" fill="#0072b2"/>
<circle cx="659.4" cy="234.2" r="2.8" fill="#0072b2"/>
<circle cx="616.7" cy="210.7" r="2.8" fill="#0072b2"/>
<circle cx="600.2" cy="230.1" r="2.8" fill="#0072b2"/>
<circle cx="637.5" cy="227.9" r="2.8" fill="#0072b2"/>
<circle cx="615.5" cy="199.9" r="2.8" fill="#0072b2"/>
<circle cx="625.0" cy="229.1" r="2.8" fill="#0072b2"/>
<circle cx="604.7" cy="197.6" r="2.8" fill="#0072b2"/>
<circle cx="597.0" cy="221.5" r="2.8" fill="#0072b2"/>
<circle cx="593.3" cy="223.0" r="2.8" fill="#0072b2"/>
<circle cx="620.8" cy="232.3" r="2.8" fill="#0072b2"/>
<circle cx="589.2" cy="221.9" r="2.8" fill="#0072b2"/>
<circle cx="622.3" cy="174.8" r="2.8" fill="#0072b2"/>
<circle cx="639.8" cy="213.3" r="2.8" fill="#0072b2"/>
<circle cx="595.2" cy="214.4" r="2.8" fill="#0072b2"/>
<circle cx="615.0" cy="181.2" r="2.8" fill="#0072b2"/>
<circle cx="624.0" cy="225.3" r="2.8" fill="#0072b2"/>
<circle cx="638.6" cy="216.6" r="2.8" fill="#0072b2"/>
<circle cx="611.9" cy="231.1" r="2.8" fill="#0072b2"/>
<circle cx="610.4" cy="223.7" r="2.8" fill="#0072b2"/>
<circle cx="604.4" cy="231.3" r="2.8" fill="#0072b2"/>
<circle cx="619.8" cy="208.0" r="2.8" fill="#0072b2"/>
<circle cx="596.7" cy="230.1" r="2.8" fill="#0072b2"/>
<circle cx="601.1" cy="232.1" r="2.8" fill="#0072b2"/>
<circle cx="623.2" cy="209.1" r="2.8" fill="#0072b2"/>
<circle cx="597.5" cy="232.5" r="2.8" fill="#0072b2"/>
<circle cx="620.3" cy="178.4" r="2.8" fill="#0072b2"/>
<circle cx="623.5" cy="223.7" r="2.8" fill="#0072b2"/>
<circle cx="629.5" cy="209.3" r="2.8" fill="#0072b2"/>
<circle cx="622.8" cy="225.3" r="2.8" fill="#0072b2"/>
<circle cx="613.9" cy="193.4" r="2.8" fill="#0072b2"/>
<circle cx="586.5" cy="232.7" r="2.8" fill="#0072b2"/>
<circle cx="611.8" cy="233.0" r="2.8" fill="#0072b2"/>
<circle cx="615.7" cy="206.0" r="2.8" fill="#0072b2"/>
<circle cx="614.0" cy="224.4" r="2.8" fill="#0072b2"/>
<circle cx="639.9" cy="204.1" r="2.8" fill="#0072b2"/>
<circle cx="612.6" cy="232.7" r="2.8" fill="#0072b2"/>
<circle cx="579.6" cy="229.0" r="2.8" fill="#0072b2"/>
<circle cx="612.5" cy="199.8" r="2.8" fill="#0072b2"/>
<circle cx="613.9" cy="233.1" r="2.8" fill="#0072b2"/>
<circle cx="605.1" cy="221.8" r="2.8" fill="#0072b2"/>
<circle cx="621.2" cy="234.2" r="2.8" fill="#0072b2"/>
<circle cx="612.1" cy="235.1" r="2.8" fill="#0072b2"/>
<circle cx="613.3" cy="208.2" r="2.8" fill="#0072b2"/>
<circle cx="630.8" cy="219.7" r="2.8" fill="#0072b2"/>
<circle cx="630.9" cy="223.8" r="2.8" fill="#0072b2"/>
<circle cx="625.8" cy="201.9" r="2.8" fill="#0072b2"/>
<circle cx="592.2" cy="217.6" r="2.8" fill="#0072b2"/>
<circle cx="628.7" cy="164.7" r="2.8" fill="#0072b2"/>
<circle cx="609.0" cy="186.8" r="2.8" fill="#0072b2"/>
<circle cx="618.8" cy="37.2" r="2.8" fill="#0072b2"/>
<circle cx="622.3" cy="34.6" r="2.8" fill="#0072b2"/>
<circle cx="624.4" cy="35.1" r="2.8" fill="#0072b2"/>
<circle cx="613.6" cy="42.3" r="2.8" fill="#0072b2"/>
<circle cx="595.6" cy="50.6" r="2.8" fill="#0072b2"/>
<circle cx="601.7" cy="53.8" r="2.8" fill="#0072b2"/>
<circle cx="608" cy="54.9" r="2.8" fill="#0072b2"/>
<circle cx="614.9" cy="54.9" r="2.8" fill="#0072b2"/>
<circle cx="620.9" cy="51" r="2.8" fill="#0072b2"/>
<circle cx="617" cy="64.3" r="2.8" fill="#0072b2"/>
<circle cx="633.6" cy="66.7" r="2.8" fill="#0072b2"/>
<circle cx="613.6" cy="68.8" r="2.8" fill="#0072b2"/>
<circle cx="627.4" cy="84.5" r="2.8" fill="#0072b2"/>
<circle cx="631.3" cy="85.9" r="2.8" fill="#0072b2"/>
<circle cx="619.1" cy="92.8" r="2.8" fill="#0072b2"/>
<circle cx="631.3" cy="99.2" r="2.8" fill="#0072b2"/>
<circle cx="611.2" cy="98.4" r="2.8" fill="#0072b2"/>
<circle cx="612" cy="101.6" r="2.8" fill="#0072b2"/>
<circle cx="616.5" cy="103" r="2.8" fill="#0072b2"/>
<circle cx="605.3" cy="113.9" r="2.8" fill="#0072b2"/>
<circle cx="622.9" cy="111.7" r="2.8" fill="#0072b2"/>
<circle cx="625.3" cy="112.2" r="2.8" fill="#0072b2"/>
<circle cx="625" cy="118.5" r="2.8" fill="#0072b2"/>
<circle cx="633.1" cy="119.2" r="2.8" fill="#0072b2"/>
<circle cx="625.2" cy="118.1" r="2.8" fill="#0072b2"/>
<circle cx="628.7" cy="123.4" r="2.8" fill="#0072b2"/>
<circle cx="606.8" cy="126.9" r="2.8" fill="#0072b2"/>
<circle cx="613.2" cy="125.1" r="2.8" fill="#0072b2"/>
<circle cx="608.2" cy="133.2" r="2.8" fill="#0072b2"/>
<circle cx="619.8" cy="133" r="2.8" fill="#0072b2"/>
<circle cx="624" cy="134" r="2.8" fill="#0072b2"/>
<circle cx="624.5" cy="139.6" r="2.8" fill="#0072b2"/>
<circle cx="617" cy="141.4" r="2.8" fill="#0072b2"/>
<circle cx="608.2" cy="146.2" r="2.8" fill="#0072b2"/>
<circle cx="635.3" cy="149" r="2.8" fill="#0072b2"/>
<circle cx="603" cy="150.8" r="2.8" fill="#0072b2"/>
<circle cx="621.9" cy="150.4" r="2.8" fill="#0072b2"/>
<circle cx="630.8" cy="156" r="2.8" fill="#0072b2"/>
<circle cx="595" cy="158.2" r="2.8" fill="#0072b2"/>
<circle cx="602.3" cy="157.4" r="2.8" fill="#0072b2"/>
<circle cx="605.1" cy="158.8" r="2.8" fill="#0072b2"/>
<circle cx="616.3" cy="157.8" r="2.8" fill="#0072b2"/>
<circle cx="638.8" cy="160.2" r="2.8" fill="#0072b2"/>
<circle cx="603" cy="162.7" r="2.8" fill="#0072b2"/>
<circle cx="577.7" cy="173.5" r="2.8" fill="#0072b2"/>
<circle cx="591.6" cy="200.6" r="2.8" fill="#0072b2"/>
<circle cx="552.2" cy="222.2" r="2.8" fill="#0072b2"/>
<circle cx="566.1" cy="230.5" r="2.8" fill="#0072b2"/>
<circle cx="525.2" cy="235" r="2.8" fill="#0072b2"/>
<circle cx="544.6" cy="233.3" r="2.8" fill="#0072b2"/>
<circle cx="551.5" cy="234.7" r="2.8" fill="#0072b2"/>
<circle cx="571.5" cy="233.8" r="2.8" fill="#0072b2"/>
<circle cx="552.5" cy="221.9" r="2.8" fill="#0072b2"/>
<circle cx="566" cy="230.2" r="2.8" fill="#0072b2"/>
<circle cx="630.9" cy="156.2" r="2.8" fill="#0072b2"/>
<circle cx="639" cy="160.1" r="2.8" fill="#0072b2"/>
<circle cx="632" cy="166.7" r="2.8" fill="#0072b2"/>
<circle cx="632.3" cy="169.5" r="2.8" fill="#0072b2"/>
<circle cx="631.7" cy="175.1" r="2.8" fill="#0072b2"/>
<circle cx="641.9" cy="178.6" r="2.8" fill="#0072b2"/>
<circle cx="652.8" cy="177.2" r="2.8" fill="#0072b2"/>
<circle cx="634.1" cy="189.2" r="2.8" fill="#0072b2"/>
<circle cx="653.1" cy="195.5" r="2.8" fill="#0072b2"/>
<circle cx="658.2" cy="195.5" r="2.8" fill="#0072b2"/>
<circle cx="652.8" cy="205.9" r="2.8" fill="#0072b2"/>
<circle cx="659.3" cy="207" r="2.8" fill="#0072b2"/>
<circle cx="647.9" cy="209.7" r="2.8" fill="#0072b2"/>
<circle cx="645.1" cy="216.7" r="2.8" fill="#0072b2"/>
<circle cx="656.7" cy="229.5" r="2.8" fill="#0072b2"/>
<circle cx="651.3" cy="230.2" r="2.8" fill="#0072b2"/>
<circle cx="659.8" cy="226.4" r="2.8" fill="#0072b2"/>
<circle cx="670.2" cy="231.4" r="2.8" fill="#0072b2"/>
<circle cx="674.8" cy="229.8" r="2.8" fill="#0072b2"/>
<circle cx="631.2" cy="30.9" r="2.8" fill="#d55e00"/>
<circle cx="604.8" cy="38.6" r="2.8" fill="#d55e00"/>
<circle cx="614.2" cy="36.5" r="2.8" fill="#d55e00"/>
<circle cx="610.8" cy="58.4" r="2.8" fill="#d55e00"/>
<circle cx="620.2" cy="60.4" r="2.8" fill="#d55e00"/>
<circle cx="624" cy="57.6" r="2.8" fill="#d55e00"/>
<circle cx="609.7" cy="69.7" r="2.8" fill="#d55e00"/>
<circle cx="620.2" cy="72.1" r="2.8" fill="#d55e00"/>
<circle cx="618.9" cy="78.2" r="2.8" fill="#d55e00"/>
<circle cx="609.2" cy="83.1" r="2.8" fill="#d55e00"/>
<circle cx="618.2" cy="85.7" r="2.8" fill="#d55e00"/>
<circle cx="630.3" cy="90" r="2.8" fill="#d55e00"/>
<circle cx="612" cy="91.1" r="2.8" fill="#d55e00"/>
<circle cx="620.5" cy="94.6" r="2.8" fill="#d55e00"/>
<circle cx="591.5" cy="96.7" r="2.8" fill="#d55e00"/>
<circle cx="628.1" cy="97" r="2.8" fill="#d55e00"/>
<circle cx="633.8" cy="97.7" r="2.8" fill="#d55e00"/>
<circle cx="618.7" cy="104.4" r="2.8" fill="#d55e00"/>
<circle cx="593.6" cy="111.7" r="2.8" fill="#d55e00"/>
<circle cx="611.6" cy="111.7" r="2.8" fill="#d55e00"/>
<circle cx="616.8" cy="112.6" r="2.8" fill="#d55e00"/>
<circle cx="627.8" cy="110.8" r="2.8" fill="#d55e00"/>
<circle cx="612" cy="116.4" r="2.8" fill="#d55e00"/>
<circle cx="613.7" cy="118.5" r="2.8" fill="#d55e00"/>
<circle cx="621.9" cy="116.8" r="2.8" fill="#d55e00"/>
<circle cx="614.6" cy="118.5" r="2.8" fill="#d55e00"/>
<circle cx="621.9" cy="116.7" r="2.8" fill="#d55e00"/>
<circle cx="605.8" cy="122.7" r="2.8" fill="#d55e00"/>
<circle cx="620.2" cy="124.8" r="2.8" fill="#d55e00"/>
<circle cx="616" cy="132.1" r="2.8" fill="#d55e00"/>
<circle cx="610" cy="135.4" r="2.8" fill="#d55e00"/>
<circle cx="616.6" cy="136.1" r="2.8" fill="#d55e00"/>
<circle cx="622.2" cy="137.5" r="2.8" fill="#d55e00"/>
<circle cx="610.7" cy="140.5" r="2.8" fill="#d55e00"/>
<circle cx="606.8" cy="143.8" r="2.8" fill="#d55e00"/>
<circle cx="623.1" cy="144.8" r="2.8" fill="#d55e00"/>
<circle cx="627.3" cy="144.2" r="2.8" fill="#d55e00"/>
<circle cx="614.9" cy="148" r="2.8" fill="#d55e00"/>
<circle cx="607.6" cy="150.1" r="2.8" fill="#d55e00"/>
<circle cx="617" cy="150.8" r="2.8" fill="#d55e00"/>
<circle cx="612.1" cy="153.6" r="2.8" fill="#d55e00"/>
<circle cx="614.9" cy="154.3" r="2.8" fill="#d55e00"/>
<circle cx="626.1" cy="154.3" r="2.8" fill="#d55e00"/>
<circle cx="620.8" cy="156" r="2.8" fill="#d55e00"/>
<circle cx="610" cy="158.8" r="2.8" fill="#d55e00"/>
<circle cx="624.7" cy="159.2" r="2.8" fill="#d55e00"/>
<circle cx="636.2" cy="162" r="2.8" fill="#d55e00"/>
<circle cx="617" cy="162" r="2.8" fill="#d55e00"/>
<circle cx="622.6" cy="162.7" r="2.8" fill="#d55e00"/>
<circle cx="627.5" cy="163.4" r="2.8" fill="#d55e00"/>
<circle cx="588.9" cy="185.4" r="2.8" fill="#d55e00"/>
<circle cx="595.4" cy="182.9" r="2.8" fill="#d55e00"/>
<circle cx="596" cy="188.5" r="2.8" fill="#d55e00"/>
<circle cx="585.3" cy="193.5" r="2.8" fill="#d55e00"/>
<circle cx="586.6" cy="203.7" r="2.8" fill="#d55e00"/>
<circle cx="578.7" cy="208.2" r="2.8" fill="#d55e00"/>
<circle cx="586.6" cy="212" r="2.8" fill="#d55e00"/>
<circle cx="552.9" cy="217.1" r="2.8" fill="#d55e00"/>
<circle cx="570.6" cy="222.9" r="2.8" fill="#d55e00"/>
<circle cx="577.7" cy="221.4" r="2.8" fill="#d55e00"/>
<circle cx="584.6" cy="220.9" r="2.8" fill="#d55e00"/>
<circle cx="573.7" cy="229" r="2.8" fill="#d55e00"/>
<circle cx="521.6" cy="232.1" r="2.8" fill="#d55e00"/>
<circle cx="542" cy="235" r="2.8" fill="#d55e00"/>
<circle cx="547.7" cy="235" r="2.8" fill="#d55e00"/>
<circle cx="553.9" cy="235" r="2.8" fill="#d55e00"/>
<circle cx="564.8" cy="235" r="2.8" fill="#d55e00"/>
<circle cx="568.1" cy="235" r="2.8" fill="#d55e00"/>
<circle cx="570.5" cy="222.8" r="2.8" fill="#d55e00"/>
<circle cx="577.1" cy="221.9" r="2.8" fill="#d55e00"/>
<circle cx="573.8" cy="229" r="2.8" fill="#d55e00"/>
<circle cx="577.6" cy="233.3" r="2.8" fill="#d55e00"/>
<circle cx="626.1" cy="154" r="2.8" fill="#d55e00"/>
<circle cx="636.2" cy="161.8" r="2.8" fill="#d55e00"/>
<circle cx="627.8" cy="163.2" r="2.8" fill="#d55e00"/>
<circle cx="627.5" cy="166" r="2.8" fill="#d55e00"/>
<circle cx="634.8" cy="165.6" r="2.8" fill="#d55e00"/>
<circle cx="629.2" cy="169.5" r="2.8" fill="#d55e00"/>
<circle cx="626.4" cy="172.3" r="2.8" fill="#d55e00"/>
<circle cx="636.2" cy="176.3" r="2.8" fill="#d55e00"/>
<circle cx="639" cy="177.2" r="2.8" fill="#d55e00"/>
<circle cx="638.3" cy="179.6" r="2.8" fill="#d55e00"/>
<circle cx="629.2" cy="177.9" r="2.8" fill="#d55e00"/>
<circle cx="631.3" cy="180" r="2.8" fill="#d55e00"/>
<circle cx="626.4" cy="181" r="2.8" fill="#d55e00"/>
<circle cx="633.1" cy="184.7" r="2.8" fill="#d55e00"/>
<circle cx="661.8" cy="189.5" r="2.8" fill="#d55e00"/>
<circle cx="661.8" cy="190.1" r="2.8" fill="#d55e00"/>
<circle cx="649.7" cy="212" r="2.8" fill="#d55e00"/>
<circle cx="652.1" cy="212.5" r="2.8" fill="#d55e00"/>
<circle cx="653.6" cy="213.6" r="2.8" fill="#d55e00"/>
<circle cx="664.4" cy="216.7" r="2.8" fill="#d55e00"/>
<circle cx="649" cy="218.2" r="2.8" fill="#d55e00"/>
<circle cx="652.8" cy="220.9" r="2.8" fill="#d55e00"/>
<circle cx="655.9" cy="219.8" r="2.8" fill="#d55e00"/>
<circle cx="647.9" cy="225.5" r="2.8" fill="#d55e00"/>
<circle cx="652.8" cy="226" r="2.8" fill="#d55e00"/>
<circle cx="662.1" cy="227.1" r="2.8" fill="#d55e00"/>
<circle cx="616.2" cy="204.1" r="2.8" fill="#d55e00"/>
<circle cx="633.3" cy="189.2" r="2.8" fill="#d55e00"/>
<circle cx="630.2" cy="232.7" r="2.8" fill="#d55e00"/>
<circle cx="624.6" cy="221.8" r="2.8" fill="#d55e00"/>
<circle cx="659.1" cy="232.8" r="2.8" fill="#d55e00"/>
<circle cx="639.5" cy="226.3" r="2.8" fill="#d55e00"/>
<circle cx="619.9" cy="202.6" r="2.8" fill="#d55e00"/>
<circle cx="601.7" cy="222.6" r="2.8" fill="#d55e00"/>
<circle cx="623.5" cy="178.0" r="2.8" fill="#d55e00"/>
<circle cx="626.0" cy="185.9" r="2.8" fill="#d55e00"/>
<circle cx="614.5" cy="223.3" r="2.8" fill="#d55e00"/>
<circle cx="642.1" cy="214.8" r="2.8" fill="#d55e00"/>
<circle cx="596.0" cy="232.1" r="2.8" fill="#d55e00"/>
<circle cx="626.8" cy="194.3" r="2.8" fill="#d55e00"/>
<circle cx="607.4" cy="204.5" r="2.8" fill="#d55e00"/>
<circle cx="634.7" cy="206.1" r="2.8" fill="#d55e00"/>
<circle cx="629.7" cy="201.1" r="2.8" fill="#d55e00"/>
<circle cx="613.8" cy="203.0" r="2.8" fill="#d55e00"/>
<circle cx="629.4" cy="224.5" r="2.8" fill="#d55e00"/>
<circle cx="612.8" cy="182.5" r="2.8" fill="#d55e00"/>
<circle cx="625.1" cy="177.2" r="2.8" fill="#d55e00"/>
<circle cx="648.5" cy="228.9" r="2.8" fill="#d55e00"/>
<circle cx="602.7" cy="225.3" r="2.8" fill="#d55e00"/>
<circle cx="613.9" cy="210.3" r="2.8" fill="#d55e00"/>
<circle cx="594.2" cy="214.0" r="2.8" fill="#d55e00"/>
<circle cx="612.4" cy="188.9" r="2.8" fill="#d55e00"/>
<circle cx="633.6" cy="208.4" r="2.8" fill="#d55e00"/>
<circle cx="607.0" cy="206.0" r="2.8" fill="#d55e00"/>
<circle cx="628.7" cy="216.8" r="2.8" fill="#d55e00"/>
<circle cx="591.5" cy="222.8" r="2.8" fill="#d55e00"/>
<circle cx="656.0" cy="231.7" r="2.8" fill="#d55e00"/>
<circle cx="615.1" cy="222.9" r="2.8" fill="#d55e00"/>
<circle cx="640.4" cy="230.4" r="2.8" fill="#d55e00"/>
<circle cx="620.9" cy="221.1" r="2.8" fill="#d55e00"/>
<circle cx="623.7" cy="233.5" r="2.8" fill="#d55e00"/>
<circle cx="614.3" cy="178.9" r="2.8" fill="#d55e00"/>
<circle cx="612.2" cy="191.2" r="2.8" fill="#d55e00"/>
<circle cx="605.7" cy="210.8" r="2.8" fill="#d55e00"/>
<circle cx="602.5" cy="230.9" r="2.8" fill="#d55e00"/>
<circle cx="623.1" cy="227.1" r="2.8" fill="#d55e00"/>
<circle cx="603.8" cy="187.3" r="2.8" fill="#d55e00"/>
<circle cx="612.3" cy="194.0" r="2.8" fill="#d55e00"/>
<circle cx="630.0" cy="216.9" r="2.8" fill="#d55e00"/>
<circle cx="584.2" cy="234.3" r="2.8" fill="#d55e00"/>
<circle cx="598.6" cy="230.9" r="2.8" fill="#d55e00"/>
<circle cx="597.3" cy="223.6" r="2.8" fill="#d55e00"/>
<circle cx="642.2" cy="230.2" r="2.8" fill="#d55e00"/>
<circle cx="629.7" cy="184.8" r="2.8" fill="#d55e00"/>
<circle cx="619.3" cy="231.6" r="2.8" fill="#d55e00"/>
<circle cx="626.4" cy="204.0" r="2.8" fill="#d55e00"/>
<circle cx="578.6" cy="233.5" r="2.8" fill="#d55e00"/>
<circle cx="625.1" cy="192.2" r="2.8" fill="#d55e00"/>
<circle cx="602.9" cy="228.5" r="2.8" fill="#d55e00"/>
<circle cx="604.8" cy="186.4" r="2.8" fill="#d55e00"/>
<circle cx="621.4" cy="206.2" r="2.8" fill="#d55e00"/>
<circle cx="632.2" cy="232.2" r="2.8" fill="#d55e00"/>
<circle cx="595.5" cy="227.1" r="2.8" fill="#d55e00"/>
<circle cx="589.6" cy="227.5" r="2.8" fill="#d55e00"/>
<circle cx="589.9" cy="225.4" r="2.8" fill="#d55e00"/>
<circle cx="618.2" cy="200.2" r="2.8" fill="#d55e00"/>
<circle cx="621.5" cy="202.0" r="2.8" fill="#d55e00"/>
<circle cx="614.4" cy="204.6" r="2.8" fill="#d55e00"/>
<circle cx="633.4" cy="225.5" r="2.8" fill="#d55e00"/>
<circle cx="633.9" cy="218.7" r="2.8" fill="#d55e00"/>
<circle cx="622.5" cy="188.2" r="2.8" fill="#d55e00"/>
<circle cx="637.9" cy="213.6" r="2.8" fill="#d55e00"/>
<circle cx="635.9" cy="226.0" r="2.8" fill="#d55e00"/>
<circle cx="623.5" cy="214.7" r="2.8" fill="#d55e00"/>
<circle cx="644.0" cy="220.9" r="2.8" fill="#d55e00"/>
<circle cx="597.9" cy="204.1" r="2.8" fill="#d55e00"/>
<circle cx="621.3" cy="220.7" r="2.8" fill="#d55e00"/>
<circle cx="632.6" cy="188.9" r="2.8" fill="#d55e00"/>
<circle cx="606.0" cy="231.9" r="2.8" fill="#d55e00"/>
<circle cx="610.7" cy="206.3" r="2.8" fill="#d55e00"/>
<circle cx="604.1" cy="204.7" r="2.8" fill="#d55e00"/>
<circle cx="621.8" cy="186.8" r="2.8" fill="#d55e00"/>
<circle cx="617.6" cy="185.3" r="2.8" fill="#d55e00"/>
<circle cx="587.3" cy="234.8" r="2.8" fill="#d55e00"/>
<circle cx="607.2" cy="210.9" r="2.8" fill="#d55e00"/>
<circle cx="621.5" cy="197.9" r="2.8" fill="#d55e00"/>
<circle cx="625.9" cy="235.2" r="2.8" fill="#d55e00"/>
<circle cx="608.2" cy="208.1" r="2.8" fill="#d55e00"/>
<circle cx="602.9" cy="231.1" r="2.8" fill="#d55e00"/>
<circle cx="613.2" cy="190.8" r="2.8" fill="#d55e00"/>
<circle cx="604.4" cy="203.1" r="2.8" fill="#d55e00"/>
<circle cx="604.6" cy="204.2" r="2.8" fill="#d55e00"/>
<circle cx="600.1" cy="228.2" r="2.8" fill="#d55e00"/>
<circle cx="597.0" cy="225.5" r="2.8" fill="#d55e00"/>
<circle cx="631.8" cy="205.6" r="2.8" fill="#d55e00"/>
<circle cx="592.1" cy="226.4" r="2.8" fill="#d55e00"/>
<circle cx="648.9" cy="226.4" r="2.8" fill="#d55e00"/>
<circle cx="616.1" cy="185.6" r="2.8" fill="#d55e00"/>
<circle cx="616.7" cy="205.3" r="2.8" fill="#d55e00"/>
<circle cx="596.6" cy="214.9" r="2.8" fill="#d55e00"/>
<circle cx="599.8" cy="234.1" r="2.8" fill="#d55e00"/>
<circle cx="617.4" cy="170.0" r="2.8" fill="#d55e00"/>
<circle cx="606.6" cy="166.8" r="2.8" fill="#d55e00"/>
<circle cx="607.8" cy="187.7" r="2.8" fill="#d55e00"/>
<circle cx="626.9" cy="172.3" r="2.8" fill="#d55e00"/>
<circle cx="636.5" cy="228.5" r="2.8" fill="#d55e00"/>
<circle cx="596.0" cy="231.6" r="2.8" fill="#d55e00"/>
<circle cx="607.9" cy="192.9" r="2.8" fill="#d55e00"/>
<circle cx="636.3" cy="225.9" r="2.8" fill="#d55e00"/>
<circle cx="607.4" cy="222.4" r="2.8" fill="#d55e00"/>
<circle cx="643.9" cy="225.4" r="2.8" fill="#d55e00"/>
<circle cx="575.5" cy="235.4" r="2.8" fill="#d55e00"/>
<circle cx="657.1" cy="233.9" r="2.8" fill="#d55e00"/>
<circle cx="610.2" cy="211.8" r="2.8" fill="#d55e00"/>
<circle cx="649.3" cy="229.6" r="2.8" fill="#d55e00"/>
<circle cx="595.7" cy="234.3" r="2.8" fill="#d55e00"/>
<circle cx="617.5" cy="226.6" r="2.8" fill="#d55e00"/>
<circle cx="613.0" cy="198.0" r="2.8" fill="#d55e00"/>
<circle cx="600.7" cy="215.4" r="2.8" fill="#d55e00"/>
<circle cx="625.7" cy="187.5" r="2.8" fill="#d55e00"/>
<circle cx="640.1" cy="234.5" r="2.8" fill="#d55e00"/>
<circle cx="637.6" cy="191.1" r="2.8" fill="#d55e00"/>
<circle cx="608.4" cy="188.6" r="2.8" fill="#d55e00"/>
<circle cx="637.9" cy="201.6" r="2.8" fill="#d55e00"/>
<circle cx="632.4" cy="235.4" r="2.8" fill="#d55e00"/>
<circle cx="629.6" cy="216.3" r="2.8" fill="#d55e00"/>
<circle cx="623.1" cy="201.2" r="2.8" fill="#d55e00"/>
<circle cx="597.6" cy="221.7" r="2.8" fill="#d55e00"/>
<circle cx="627.1" cy="222.3" r="2.8" fill="#d55e00"/>
<circle cx="609.9" cy="225.8" r="2.8" fill="#d55e00"/>
<circle cx="614.2" cy="179.1" r="2.8" fill="#d55e00"/>
<circle cx="615.2" cy="220.9" r="2.8" fill="#d55e00"/>
<circle cx="615.5" cy="235.6" r="2.8" fill="#d55e00"/>
<circle cx="628.1" cy="217.5" r="2.8" fill="#d55e00"/>
<circle cx="604.8" cy="203.2" r="2.8" fill="#d55e00"/>
<circle cx="608.8" cy="214.4" r="2.8" fill="#d55e00"/>
<circle cx="613.0" cy="225.1" r="2.8" fill="#d55e00"/>
<circle cx="617.1" cy="188.2" r="2.8" fill="#d55e00"/>
<circle cx="626.5" cy="214.0" r="2.8" fill="#d55e00"/>
<circle cx="627.5" cy="185.0" r="2.8" fill="#d55e00"/>
<circle cx="623.2" cy="217.4" r="2.8" fill="#d55e00"/>
<circle cx="616.5" cy="223.6" r="2.8" fill="#d55e00"/>
<circle cx="617.8" cy="227.5" r="2.8" fill="#d55e00"/>
<circle cx="625.8" cy="190.4" r="2.8" fill="#d55e00"/>
<circle cx="602.0" cy="218.4" r="2.8" fill="#d55e00"/>
<circle cx="655.2" cy="235.7" r="2.8" fill="#d55e00"/>
<circle cx="611.9" cy="191.9" r="2.8" fill="#d55e00"/>
<circle cx="597.7" cy="224.9" r="2.8" fill="#d55e00"/>
<circle cx="610.7" cy="202.2" r="2.8" fill="#d55e00"/>
<circle cx="608.9" cy="202.8" r="2.8" fill="#d55e00"/>
<circle cx="630.6" cy="220.3" r="2.8" fill="#d55e00"/>
<circle cx="615.3" cy="220.8" r="2.8" fill="#d55e00"/>
<circle cx="650.5" cy="230.9" r="2.8" fill="#d55e00"/>
<circle cx="634.6" cy="208.5" r="2.8" fill="#d55e00"/>
<circle cx="604.1" cy="211.2" r="2.8" fill="#d55e00"/>
<circle cx="646.0" cy="223.5" r="2.8" fill="#d55e00"/>
<circle cx="633.1" cy="232.1" r="2.8" fill="#d55e00"/>
<circle cx="620.9" cy="204.1" r="2.8" fill="#d55e00"/>
<circle cx="577.3" cy="234.3" r="2.8" fill="#d55e00"/>
<circle cx="620.2" cy="208.6" r="2.8" fill="#d55e00"/>
<circle cx="627.5" cy="215.2" r="2.8" fill="#d55e00"/>
<circle cx="622.7" cy="235.5" r="2.8" fill="#d55e00"/>
<circle cx="641.8" cy="216.9" r="2.8" fill="#d55e00"/>
<circle cx="646.9" cy="224.1" r="2.8" fill="#d55e00"/>
<circle cx="659.4" cy="233.3" r="2.8" fill="#d55e00"/>
<circle cx="628.2" cy="194.1" r="2.8" fill="#d55e00"/>
<circle cx="620.7" cy="182.6" r="2.8" fill="#d55e00"/>
<circle cx="619.4" cy="195.0" r="2.8" fill="#d55e00"/>
<circle cx="602.5" cy="210.3" r="2.8" fill="#d55e00"/>
<circle cx="648.1" cy="231.4" r="2.8" fill="#d55e00"/>
<circle cx="593.1" cy="226.2" r="2.8" fill="#d55e00"/>
<circle cx="617.3" cy="200.6" r="2.8" fill="#d55e00"/>
<circle cx="610.5" cy="175.4" r="2.8" fill="#d55e00"/>
<circle cx="646.4" cy="226.1" r="2.8" fill="#d55e00"/>
<circle cx="634.2" cy="199.3" r="2.8" fill="#d55e00"/>
<circle cx="622.4" cy="203.9" r="2.8" fill="#d55e00"/>
<circle cx="617.8" cy="220.0" r="2.8" fill="#d55e00"/>
<circle cx="636.0" cy="216.5" r="2.8" fill="#d55e00"/>
<circle cx="614.1" cy="220.8" r="2.8" fill="#d55e00"/>
<circle cx="651.3" cy="226.0" r="2.8" fill="#d55e00"/>
<circle cx="618.7" cy="194.7" r="2.8" fill="#d55e00"/>
<circle cx="635.1" cy="228.8" r="2.8" fill="#d55e00"/>
<circle cx="611.4" cy="231.4" r="2.8" fill="#d55e00"/>
<circle cx="624.5" cy="223.4" r="2.8" fill="#d55e00"/>
<circle cx="624.6" cy="221.6" r="2.8" fill="#d55e00"/>
<circle cx="604.2" cy="224.0" r="2.8" fill="#d55e00"/>
<circle cx="626.1" cy="213.1" r="2.8" fill="#d55e00"/>
<circle cx="629.3" cy="221.2" r="2.8" fill="#d55e00"/>
<circle cx="595.5" cy="232.6" r="2.8" fill="#d55e00"/>
<circle cx="647.8" cy="227.5" r="2.8" fill="#d55e00"/>
<circle cx="662.0" cy="232.4" r="2.8" fill="#d55e00"/>
<circle cx="620.0" cy="223.0" r="2.8" fill="#d55e00"/>
<circle cx="645.6" cy="231.6" r="2.8" fill="#d55e00"/>
<circle cx="609.7" cy="225.4" r="2.8" fill="#d55e00"/>
<circle cx="623.9" cy="210.5" r="2.8" fill="#d55e00"/>
<circle cx="619.1" cy="207.9" r="2.8" fill="#d55e00"/>
<circle cx="650.3" cy="234.0" r="2.8" fill="#d55e00"/>
<circle cx="637.1" cy="227.5" r="2.8" fill="#d55e00"/>
<circle cx="625.0" cy="227.6" r="2.8" fill="#d55e00"/>
<circle cx="613.8" cy="203.7" r="2.8" fill="#d55e00"/>
<circle cx="601.2" cy="212.4" r="2.8" fill="#d55e00"/>
<circle cx="596.6" cy="220.2" r="2.8" fill="#d55e00"/>
<circle cx="602.9" cy="232.9" r="2.8" fill="#d55e00"/>
<circle cx="604.2" cy="231.5" r="2.8" fill="#d55e00"/>
<circle cx="610.0" cy="193.2" r="2.8" fill="#d55e00"/>
<circle cx="593.5" cy="233.0" r="2.8" fill="#d55e00"/>
<circle cx="645.0" cy="228.9" r="2.8" fill="#d55e00"/>
<circle cx="627.2" cy="183.9" r="2.8" fill="#d55e00"/>
<circle cx="602.0" cy="229.5" r="2.8" fill="#d55e00"/>
<circle cx="630.4" cy="207.8" r="2.8" fill="#d55e00"/>
<circle cx="636.9" cy="202.9" r="2.8" fill="#d55e00"/>
<circle cx="620.0" cy="178.4" r="2.8" fill="#d55e00"/>
<circle cx="598.8" cy="221.1" r="2.8" fill="#d55e00"/>
<circle cx="619.9" cy="226.1" r="2.8" fill="#d55e00"/>
<circle cx="640.2" cy="217.2" r="2.8" fill="#d55e00"/>
<circle cx="642.9" cy="228.1" r="2.8" fill="#d55e00"/>
<circle cx="621.8" cy="180.9" r="2.8" fill="#d55e00"/>
<circle cx="599.7" cy="222.5" r="2.8" fill="#d55e00"/>
<circle cx="623.8" cy="177.0" r="2.8" fill="#d55e00"/>
<circle cx="607.2" cy="233.9" r="2.8" fill="#d55e00"/>
<circle cx="635.1" cy="213.0" r="2.8" fill="#d55e00"/>
<circle cx="623.2" cy="184.6" r="2.8" fill="#d55e00"/>
<circle cx="610.5" cy="207.7" r="2.8" fill="#d55e00"/>
<circle cx="630.8" cy="203.1" r="2.8" fill="#d55e00"/>
<circle cx="624.0" cy="192.1" r="2.8" fill="#d55e00"/>
<circle cx="634.2" cy="204.6" r="2.8" fill="#d55e00"/>
<circle cx="663.7" cy="235.5" r="2.8" fill="#d55e00"/>
<circle cx="618.1" cy="234.8" r="2.8" fill="#d55e00"/>
<circle cx="626.7" cy="193.2" r="2.8" fill="#d55e00"/>
<circle cx="660.3" cy="233.8" r="2.8" fill="#d55e00"/>
<circle cx="577.5" cy="235.2" r="2.8" fill="#d55e00"/>
<circle cx="593.7" cy="221.0" r="2.8" fill="#d55e00"/>
<circle cx="637.2" cy="220.2" r="2.8" fill="#d55e00"/>
<circle cx="641.3" cy="234.3" r="2.8" fill="#d55e00"/>
<circle cx="611.4" cy="200.5" r="2.8" fill="#d55e00"/>
<circle cx="588.1" cy="228.7" r="2.8" fill="#d55e00"/>
<circle cx="605.3" cy="204.8" r="2.8" fill="#d55e00"/>
<circle cx="627.5" cy="193.3" r="2.8" fill="#d55e00"/>
<circle cx="625.7" cy="214.1" r="2.8" fill="#d55e00"/>
<circle cx="606.9" cy="205.4" r="2.8" fill="#d55e00"/>
<circle cx="610.1" cy="234.8" r="2.8" fill="#d55e00"/>
<circle cx="578.0" cy="234.0" r="2.8" fill="#d55e00"/>
<circle cx="653.5" cy="230.5" r="2.8" fill="#d55e00"/>
<circle cx="633.8" cy="213.8" r="2.8" fill="#d55e00"/>
<circle cx="619.5" cy="165.9" r="2.8" fill="#d55e00"/>
<circle cx="594.6" cy="221.5" r="2.8" fill="#d55e00"/>
<circle cx="614.8" cy="209.3" r="2.8" fill="#d55e00"/>
<circle cx="601.8" cy="201.4" r="2.8" fill="#d55e00"/>
<circle cx="575.0" cy="234.2" r="2.8" fill="#d55e00"/>
<circle cx="642.4" cy="229.5" r="2.8" fill="#d55e00"/>
<circle cx="627.4" cy="214.3" r="2.8" fill="#d55e00"/>
<circle cx="644.1" cy="224.4" r="2.8" fill="#d55e00"/>
<circle cx="659.7" cy="234.4" r="2.8" fill="#d55e00"/>
<circle cx="599.0" cy="235.4" r="2.8" fill="#d55e00"/>
<circle cx="594.4" cy="220.2" r="2.8" fill="#d55e00"/>
<circle cx="626.3" cy="222.6" r="2.8" fill="#d55e00"/>
<circle cx="622.5" cy="233.2" r="2.8" fill="#d55e00"/>
<circle cx="653.8" cy="231.1" r="2.8" fill="#d55e00"/>
<circle cx="627.8" cy="233.1" r="2.8" fill="#d55e00"/>
<circle cx="596.2" cy="212.7" r="2.8" fill="#d55e00"/>
<circle cx="631.3" cy="212.1" r="2.8" fill="#d55e00"/>
<circle cx="612.3" cy="173.5" r="2.8" fill="#d55e00"/>
<circle cx="609.1" cy="181.0" r="2.8" fill="#d55e00"/>
<circle cx="630.9" cy="228.6" r="2.8" fill="#d55e00"/>
<circle cx="600.0" cy="203.2" r="2.8" fill="#d55e00"/>
<circle cx="650.1" cy="224.6" r="2.8" fill="#d55e00"/>
<circle cx="633.2" cy="214.8" r="2.8" fill="#d55e00"/>
<circle cx="608.5" cy="199.6" r="2.8" fill="#d55e00"/>
<circle cx="610.9" cy="220.3" r="2.8" fill="#d55e00"/>
<circle cx="600.7" cy="218.0" r="2.8" fill="#d55e00"/>
<circle cx="598.3" cy="213.9" r="2.8" fill="#d55e00"/>
<circle cx="608.4" cy="196.3" r="2.8" fill="#d55e00"/>
<circle cx="602.7" cy="193.4" r="2.8" fill="#d55e00"/>
<circle cx="607.0" cy="202.1" r="2.8" fill="#d55e00"/>
<circle cx="649.2" cy="225.0" r="2.8" fill="#d55e00"/>
<circle cx="588.9" cy="225.5" r="2.8" fill="#d55e00"/>
<circle cx="624.2" cy="184.1" r="2.8" fill="#d55e00"/>
<circle cx="623.0" cy="173.6" r="2.8" fill="#d55e00"/>
<circle cx="617.5" cy="199.0" r="2.8" fill="#d55e00"/>
<circle cx="649.7" cy="231.7" r="2.8" fill="#d55e00"/>
<circle cx="634.3" cy="231.2" r="2.8" fill="#d55e00"/>
<circle cx="633.1" cy="207.1" r="2.8" fill="#d55e00"/>
<circle cx="612.0" cy="210.7" r="2.8" fill="#d55e00"/>
<circle cx="598.8" cy="227.2" r="2.8" fill="#d55e00"/>
<circle cx="645.2" cy="227.3" r="2.8" fill="#d55e00"/>
<circle cx="658.1" cy="232.5" r="2.8" fill="#d55e00"/>
<circle cx="634.5" cy="190.9" r="2.8" fill="#d55e00"/>
<circle cx="620.5" cy="226.0" r="2.8" fill="#d55e00"/>
<circle cx="582.3" cy="232.9" r="2.8" fill="#d55e00"/>
<circle cx="594.4" cy="228.0" r="2.8" fill="#d55e00"/>
<circle cx="604.9" cy="212.5" r="2.8" fill="#d55e00"/>
<circle cx="629.7" cy="211.3" r="2.8" fill="#d55e00"/>
<circle cx="611.7" cy="232.6" r="2.8" fill="#d55e00"/>
<circle cx="596.1" cy="232.9" r="2.8" fill="#d55e00"/>
<circle cx="626.8" cy="215.7" r="2.8" fill="#d55e00"/>
<circle cx="602.2" cy="218.1" r="2.8" fill="#d55e00"/>
<circle cx="607.2" cy="231.4" r="2.8" fill="#d55e00"/>
<circle cx="601.5" cy="213.4" r="2.8" fill="#d55e00"/>
<circle cx="625.7" cy="196.5" r="2.8" fill="#d55e00"/>
<circle cx="649.3" cy="233.0" r="2.8" fill="#d55e00"/>
<circle cx="640.5" cy="222.3" r="2.8" fill="#d55e00"/>
<circle cx="596.6" cy="226.3" r="2.8" fill="#d55e00"/>
<circle cx="595.3" cy="215.0" r="2.8" fill="#d55e00"/>
<circle cx="584.3" cy="234.8" r="2.8" fill="#d55e00"/>
<circle cx="615.3" cy="199.6" r="2.8" fill="#d55e00"/>
<circle cx="601.6" cy="196.3" r="2.8" fill="#d55e00"/>
<circle cx="622.1" cy="172.3" r="2.8" fill="#d55e00"/>
<circle cx="632.6" cy="212.8" r="2.8" fill="#d55e00"/>
<circle cx="617.6" cy="215.2" r="2.8" fill="#d55e00"/>
<circle cx="604.0" cy="202.5" r="2.8" fill="#d55e00"/>
<circle cx="628.8" cy="212.5" r="2.8" fill="#d55e00"/>
<circle cx="623.3" cy="220.8" r="2.8" fill="#d55e00"/>
<circle cx="623.5" cy="177.5" r="2.8" fill="#d55e00"/>
<circle cx="605.5" cy="202.8" r="2.8" fill="#d55e00"/>
<circle cx="624.1" cy="204.2" r="2.8" fill="#d55e00"/>
<circle cx="629.8" cy="214.9" r="2.8" fill="#d55e00"/>
<circle cx="601.9" cy="210.2" r="2.8" fill="#d55e00"/>
<circle cx="603.0" cy="232.7" r="2.8" fill="#d55e00"/>
<circle cx="618.5" cy="166.8" r="2.8" fill="#d55e00"/>
<circle cx="596.5" cy="226.5" r="2.8" fill="#d55e00"/>
<circle cx="593.2" cy="218.8" r="2.8" fill="#d55e00"/>
<circle cx="625.4" cy="196.7" r="2.8" fill="#d55e00"/>
<circle cx="615.0" cy="218.4" r="2.8" fill="#d55e00"/>
<circle cx="616.2" cy="206.9" r="2.8" fill="#d55e00"/>
<circle cx="616.1" cy="229.0" r="2.8" fill="#d55e00"/>
<circle cx="594.3" cy="218.4" r="2.8" fill="#d55e00"/>
<circle cx="595.6" cy="218.2" r="2.8" fill="#d55e00"/>
<circle cx="608.8" cy="218.0" r="2.8" fill="#d55e00"/>
<circle cx="598.2" cy="233.7" r="2.8" fill="#d55e00"/>
<circle cx="653.8" cy="228.5" r="2.8" fill="#d55e00"/>
<circle cx="647.0" cy="232.6" r="2.8" fill="#d55e00"/>
<circle cx="653.4" cy="235.1" r="2.8" fill="#d55e00"/>
<circle cx="626.9" cy="184.3" r="2.8" fill="#d55e00"/>
<circle cx="616.2" cy="185.9" r="2.8" fill="#d55e00"/>
<circle cx="629.6" cy="203.6" r="2.8" fill="#d55e00"/>
<circle cx="649.5" cy="232.2" r="2.8" fill="#d55e00"/>
<circle cx="609.6" cy="222.1" r="2.8" fill="#d55e00"/>
<circle cx="609.4" cy="188.7" r="2.8" fill="#d55e00"/>
<circle cx="629.3" cy="228.9" r="2.8" fill="#d55e00"/>
<circle cx="627.9" cy="221.6" r="2.8" fill="#d55e00"/>
<circle cx="635.2" cy="209.5" r="2.8" fill="#d55e00"/>
<circle cx="613.3" cy="178.9" r="2.8" fill="#d55e00"/>
<circle cx="631.0" cy="232.3" r="2.8" fill="#d55e00"/>
<circle cx="648.6" cy="227.8" r="2.8" fill="#d55e00"/>
<circle cx="638.1" cy="215.6" r="2.8" fill="#d55e00"/>
<circle cx="622.1" cy="203.5" r="2.8" fill="#d55e00"/>
<circle cx="617.1" cy="222.9" r="2.8" fill="#d55e00"/>
<circle cx="611.5" cy="210.4" r="2.8" fill="#d55e00"/>
<circle cx="638.7" cy="212.7" r="2.8" fill="#d55e00"/>
<circle cx="596.8" cy="214.4" r="2.8" fill="#d55e00"/>
<circle cx="627.5" cy="187.0" r="2.8" fill="#d55e00"/>
<circle cx="641.3" cy="220.8" r="2.8" fill="#d55e00"/>
<circle cx="609.0" cy="235.2" r="2.8" fill="#d55e00"/>
<circle cx="648.0" cy="235.8" r="2.8" fill="#d55e00"/>
<circle cx="648.5" cy="225.8" r="2.8" fill="#d55e00"/>
<circle cx="618.5" cy="175.7" r="2.8" fill="#d55e00"/>
<circle cx="657.1" cy="232.4" r="2.8" fill="#d55e00"/>
<circle cx="623.9" cy="202.4" r="2.8" fill="#d55e00"/>
<circle cx="624.3" cy="220.9" r="2.8" fill="#d55e00"/>
<circle cx="622.8" cy="199.2" r="2.8" fill="#d55e00"/>
<circle cx="625.2" cy="228.5" r="2.8" fill="#d55e00"/>
<circle cx="655.0" cy="230.1" r="2.8" fill="#d55e00"/>
<circle cx="627.3" cy="166.5" r="2.8" fill="#d55e00"/>
<circle cx="616.1" cy="211.4" r="2.8" fill="#d55e00"/>
<circle cx="603.1" cy="206.9" r="2.8" fill="#d55e00"/>
<circle cx="609.1" cy="176.6" r="2.8" fill="#d55e00"/>
<circle cx="622.4" cy="195.7" r="2.8" fill="#d55e00"/>
<circle cx="606.8" cy="233.3" r="2.8" fill="#d55e00"/>
<circle cx="600.8" cy="212.4" r="2.8" fill="#d55e00"/>
<circle cx="624.9" cy="215.2" r="2.8" fill="#d55e00"/>
<circle cx="613.5" cy="229.8" r="2.8" fill="#d55e00"/>
<circle cx="608.0" cy="232.0" r="2.8" fill="#d55e00"/>
<circle cx="617.2" cy="230.4" r="2.8" fill="#d55e00"/>
<circle cx="601.2" cy="229.2" r="2.8" fill="#d55e00"/>
<circle cx="628.4" cy="192.9" r="2.8" fill="#d55e00"/>
<circle cx="590.0" cy="225.1" r="2.8" fill="#d55e00"/>
<circle cx="606.6" cy="162.9" r="2.8" fill="#d55e00"/>
<circle cx="601.7" cy="213.5" r="2.8" fill="#d55e00"/>
<circle cx="619.6" cy="215.9" r="2.8" fill="#d55e00"/>
<circle cx="615.1" cy="211.6" r="2.8" fill="#d55e00"/>
<circle cx="615.1" cy="220.0" r="2.8" fill="#d55e00"/>
<circle cx="606.5" cy="226.8" r="2.8" fill="#d55e00"/>
<circle cx="604.9" cy="202.5" r="2.8" fill="#d55e00"/>
<circle cx="612.7" cy="206.6" r="2.8" fill="#d55e00"/>
<circle cx="630.7" cy="212.2" r="2.8" fill="#d55e00"/>
<circle cx="635.3" cy="197.0" r="2.8" fill="#d55e00"/>
<circle cx="590.3" cy="230.5" r="2.8" fill="#d55e00"/>
<circle cx="613.0" cy="228.8" r="2.8" fill="#d55e00"/>
<circle cx="642.0" cy="230.7" r="2.8" fill="#d55e00"/>
<circle cx="617.8" cy="209.2" r="2.8" fill="#d55e00"/>
<circle cx="626.1" cy="214.7" r="2.8" fill="#d55e00"/>
<circle cx="627.0" cy="235.6" r="2.8" fill="#d55e00"/>
<circle cx="628.5" cy="195.8" r="2.8" fill="#d55e00"/>
<circle cx="630.4" cy="188.5" r="2.8" fill="#d55e00"/>
<circle cx="615.8" cy="227.7" r="2.8" fill="#d55e00"/>
<circle cx="641.0" cy="215.3" r="2.8" fill="#d55e00"/>
<circle cx="633.8" cy="230.0" r="2.8" fill="#d55e00"/>
<circle cx="635.0" cy="204.7" r="2.8" fill="#d55e00"/>
<circle cx="624.0" cy="233.3" r="2.8" fill="#d55e00"/>
<circle cx="609.2" cy="183.8" r="2.8" fill="#d55e00"/>
<circle cx="607.7" cy="231.9" r="2.8" fill="#d55e00"/>
<circle cx="623.2" cy="232.0" r="2.8" fill="#d55e00"/>
<circle cx="608.5" cy="225.4" r="2.8" fill="#d55e00"/>
<circle cx="638.9" cy="205.8" r="2.8" fill="#d55e00"/>
<circle cx="615.9" cy="160.1" r="2.8" fill="#d55e00"/>
<circle cx="625.9" cy="233.5" r="2.8" fill="#d55e00"/>
<circle cx="643.5" cy="228.4" r="2.8" fill="#d55e00"/>
<circle cx="634.6" cy="212.9" r="2.8" fill="#d55e00"/>
<circle cx="642.6" cy="234.4" r="2.8" fill="#d55e00"/>
<circle cx="614.5" cy="180.5" r="2.8" fill="#d55e00"/>
<circle cx="631.9" cy="235.3" r="2.8" fill="#d55e00"/>
<circle cx="628.5" cy="209.5" r="2.8" fill="#d55e00"/>
<circle cx="635.0" cy="201.8" r="2.8" fill="#d55e00"/>
<circle cx="618.2" cy="220.7" r="2.8" fill="#d55e00"/>
<circle cx="615.7" cy="161.1" r="2.8" fill="#d55e00"/>
<circle cx="617.8" cy="178.3" r="2.8" fill="#d55e00"/>
<circle cx="627.6" cy="218.0" r="2.8" fill="#d55e00"/>
<circle cx="618.4" cy="223.3" r="2.8" fill="#d55e00"/>
<circle cx="593.2" cy="230.0" r="2.8" fill="#d55e00"/>
<circle cx="623.9" cy="185.1" r="2.8" fill="#d55e00"/>
<circle cx="612.6" cy="178.5" r="2.8" fill="#d55e00"/>
<circle cx="600.9" cy="213.5" r="2.8" fill="#d55e00"/>
<circle cx="594.9" cy="224.2" r="2.8" fill="#d55e00"/>
<circle cx="618.5" cy="207.4" r="2.8" fill="#d55e00"/>
<circle cx="627.1" cy="185.4" r="2.8" fill="#d55e00"/>
<circle cx="598.3" cy="235.3" r="2.8" fill="#d55e00"/>
<circle cx="613.3" cy="210.8" r="2.8" fill="#d55e00"/>
<circle cx="601.0" cy="212.2" r="2.8" fill="#d55e00"/>
<circle cx="582.8" cy="235.1" r="2.8" fill="#d55e00"/>
<circle cx="595.6" cy="221.7" r="2.8" fill="#d55e00"/>
<circle cx="626.1" cy="196.7" r="2.8" fill="#d55e00"/>
<circle cx="639.5" cy="234.0" r="2.8" fill="#d55e00"/>
<circle cx="607.3" cy="220.7" r="2.8" fill="#d55e00"/>
<circle cx="628.3" cy="214.8" r="2.8" fill="#d55e00"/>
<circle cx="594.0" cy="225.5" r="2.8" fill="#d55e00"/>
<circle cx="590.8" cy="226.1" r="2.8" fill="#d55e00"/>
<circle cx="613.8" cy="160.3" r="2.8" fill="#d55e00"/>
<circle cx="619.2" cy="202.9" r="2.8" fill="#d55e00"/>
<circle cx="608.7" cy="204.6" r="2.8" fill="#d55e00"/>
<circle cx="635.6" cy="199.2" r="2.8" fill="#d55e00"/>
<circle cx="632.8" cy="222.0" r="2.8" fill="#d55e00"/>
<circle cx="603.7" cy="215.6" r="2.8" fill="#d55e00"/>
<circle cx="596.1" cy="212.6" r="2.8" fill="#d55e00"/>
<circle cx="595.7" cy="233.3" r="2.8" fill="#d55e00"/>
<circle cx="628.9" cy="185.5" r="2.8" fill="#d55e00"/>
<circle cx="612.8" cy="225.8" r="2.8" fill="#d55e00"/>
<circle cx="642.5" cy="224.6" r="2.8" fill="#d55e00"/>
<circle cx="595.5" cy="227.5" r="2.8" fill="#d55e00"/>
<circle cx="596.1" cy="218.6" r="2.8" fill="#d55e00"/>
<circle cx="610.7" cy="228.4" r="2.8" fill="#d55e00"/>
<circle cx="614.6" cy="188.7" r="2.8" fill="#d55e00"/>
<circle cx="628.1" cy="217.7" r="2.8" fill="#d55e00"/>
<circle cx="605.0" cy="206.3" r="2.8" fill="#d55e00"/>
<circle cx="607.3" cy="198.7" r="2.8" fill="#d55e00"/>
<circle cx="629.7" cy="188.6" r="2.8" fill="#d55e00"/>
<circle cx="635.3" cy="221.4" r="2.8" fill="#d55e00"/>
<circle cx="603.5" cy="220.6" r="2.8" fill="#d55e00"/>
<circle cx="644.8" cy="225.3" r="2.8" fill="#d55e00"/>
<circle cx="611.6" cy="200.3" r="2.8" fill="#d55e00"/>
<circle cx="612.7" cy="224.1" r="2.8" fill="#d55e00"/>
<circle cx="611.1" cy="232.5" r="2.8" fill="#d55e00"/>
<circle cx="629.9" cy="190.8" r="2.8" fill="#d55e00"/>
<circle cx="635.1" cy="232.8" r="2.8" fill="#d55e00"/>
<circle cx="609.7" cy="206.7" r="2.8" fill="#d55e00"/>
<circle cx="616.0" cy="203.3" r="2.8" fill="#d55e00"/>
<circle cx="634.7" cy="222.9" r="2.8" fill="#d55e00"/>
<circle cx="633.5" cy="233.5" r="2.8" fill="#d55e00"/>
<circle cx="598.9" cy="233.7" r="2.8" fill="#d55e00"/>
<circle cx="640.4" cy="224.1" r="2.8" fill="#d55e00"/>
<circle cx="634.2" cy="199.5" r="2.8" fill="#d55e00"/>
<circle cx="613.4" cy="185.7" r="2.8" fill="#d55e00"/>
<circle cx="621.9" cy="165.0" r="2.8" fill="#d55e00"/>
<circle cx="636.4" cy="194.6" r="2.8" fill="#d55e00"/>
<circle cx="608.9" cy="190.0" r="2.8" fill="#d55e00"/>
<circle cx="620.4" cy="232.3" r="2.8" fill="#d55e00"/>
<circle cx="628.7" cy="198.0" r="2.8" fill="#d55e00"/>
<circle cx="613.8" cy="187.1" r="2.8" fill="#d55e00"/>
<circle cx="631.1" cy="219.7" r="2.8" fill="#d55e00"/>
<circle cx="630.6" cy="207.5" r="2.8" fill="#d55e00"/>
<circle cx="629.0" cy="221.8" r="2.8" fill="#d55e00"/>
<circle cx="585.1" cy="232.2" r="2.8" fill="#d55e00"/>
<circle cx="593.5" cy="225.7" r="2.8" fill="#d55e00"/>
<circle cx="626.6" cy="175.1" r="2.8" fill="#d55e00"/>
<circle cx="617.1" cy="209.1" r="2.8" fill="#d55e00"/>
<circle cx="620.5" cy="212.4" r="2.8" fill="#d55e00"/>
<circle cx="636.2" cy="215.6" r="2.8" fill="#d55e00"/>
<circle cx="600.4" cy="226.0" r="2.8" fill="#d55e00"/>
<circle cx="626.3" cy="175.8" r="2.8" fill="#d55e00"/>
<circle cx="597.2" cy="223.0" r="2.8" fill="#d55e00"/>
<circle cx="620.8" cy="203.6" r="2.8" fill="#d55e00"/>
<circle cx="609.1" cy="225.5" r="2.8" fill="#d55e00"/>
<circle cx="611.2" cy="195.6" r="2.8" fill="#d55e00"/>
<circle cx="624.7" cy="185.5" r="2.8" fill="#d55e00"/>
<circle cx="632.4" cy="221.3" r="2.8" fill="#d55e00"/>
<circle cx="615.4" cy="187.9" r="2.8" fill="#d55e00"/>
<circle cx="634.9" cy="223.1" r="2.8" fill="#d55e00"/>
<circle cx="614.1" cy="226.2" r="2.8" fill="#d55e00"/>
<circle cx="598.4" cy="217.8" r="2.8" fill="#d55e00"/>
<circle cx="617.1" cy="191.6" r="2.8" fill="#d55e00"/>
<circle cx="625.7" cy="229.4" r="2.8" fill="#d55e00"/>
<circle cx="639.8" cy="213.8" r="2.8" fill="#d55e00"/>
<circle cx="606.0" cy="176.9" r="2.8" fill="#d55e00"/>
<circle cx="631.5" cy="199.2" r="2.8" fill="#d55e00"/>
<circle cx="609.5" cy="191.6" r="2.8" fill="#d55e00"/>
<circle cx="634.4" cy="223.6" r="2.8" fill="#d55e00"/>
<circle cx="587.7" cy="225.4" r="2.8" fill="#d55e00"/>
<circle cx="631.9" cy="208.7" r="2.8" fill="#d55e00"/>
<circle cx="603.6" cy="197.6" r="2.8" fill="#d55e00"/>
<circle cx="597.5" cy="235.1" r="2.8" fill="#d55e00"/>
<circle cx="599.5" cy="221.7" r="2.8" fill="#d55e00"/>
<circle cx="649.4" cy="235.6" r="2.8" fill="#d55e00"/>
<circle cx="633.6" cy="202.3" r="2.8" fill="#d55e00"/>
<circle cx="616.5" cy="206.7" r="2.8" fill="#d55e00"/>
<circle cx="626.3" cy="214.1" r="2.8" fill="#d55e00"/>
<circle cx="613.1" cy="232.8" r="2.8" fill="#d55e00"/>
<circle cx="613.8" cy="196.0" r="2.8" fill="#d55e00"/>
<circle cx="596.0" cy="224.0" r="2.8" fill="#d55e00"/>
<circle cx="636.1" cy="214.4" r="2.8" fill="#d55e00"/>
<circle cx="616.9" cy="189.9" r="2.8" fill="#d55e00"/>
<circle cx="632.1" cy="188.8" r="2.8" fill="#d55e00"/>
<circle cx="610.3" cy="198.2" r="2.8" fill="#d55e00"/>
<circle cx="624.3" cy="229.9" r="2.8" fill="#d55e00"/>
<circle cx="613.2" cy="188.1" r="2.8" fill="#d55e00"/>
<circle cx="614.7" cy="231.0" r="2.8" fill="#d55e00"/>
<circle cx="622.8" cy="184.1" r="2.8" fill="#d55e00"/>
<circle cx="629.5" cy="221.3" r="2.8" fill="#d55e00"/>
<circle cx="591.2" cy="227.7" r="2.8" fill="#d55e00"/>
<circle cx="639.5" cy="207.9" r="2.8" fill="#d55e00"/>
<circle cx="604.8" cy="235.5" r="2.8" fill="#d55e00"/>
<circle cx="627.4" cy="233.2" r="2.8" fill="#d55e00"/>
<circle cx="613.4" cy="204.0" r="2.8" fill="#d55e00"/>
<circle cx="627.7" cy="190.7" r="2.8" fill="#d55e00"/>
<circle cx="639.2" cy="217.5" r="2.8" fill="#d55e00"/>
<circle cx="624.3" cy="227.9" r="2.8" fill="#d55e00"/>
<circle cx="652.8" cy="230.4" r="2.8" fill="#d55e00"/>
<circle cx="617.8" cy="233.4" r="2.8" fill="#d55e00"/>
<circle cx="639.4" cy="226.4" r="2.8" fill="#d55e00"/>
<circle cx="610.8" cy="220.7" r="2.8" fill="#d55e00"/>
<circle cx="658.7" cy="232.3" r="2.8" fill="#d55e00"/>
<circle cx="605.2" cy="230.3" r="2.8" fill="#d55e00"/>
<circle cx="631.3" cy="204.0" r="2.8" fill="#d55e00"/>
<circle cx="631.4" cy="198.5" r="2.8" fill="#d55e00"/>
<circle cx="633.6" cy="229.8" r="2.8" fill="#d55e00"/>
<circle cx="608.0" cy="203.0" r="2.8" fill="#d55e00"/>
<circle cx="633.2" cy="201.1" r="2.8" fill="#d55e00"/>
<circle cx="633.1" cy="227.4" r="2.8" fill="#d55e00"/>
<circle cx="631.3" cy="211.0" r="2.8" fill="#d55e00"/>
<circle cx="595.2" cy="218.1" r="2.8" fill="#d55e00"/>
<circle cx="613.6" cy="172.1" r="2.8" fill="#d55e00"/>
<circle cx="587.3" cy="226.7" r="2.8" fill="#d55e00"/>
<circle cx="627.3" cy="217.1" r="2.8" fill="#d55e00"/>
<circle cx="608.5" cy="216.0" r="2.8" fill="#d55e00"/>
<circle cx="624.9" cy="231.2" r="2.8" fill="#d55e00"/>
<circle cx="601.4" cy="225.4" r="2.8" fill="#d55e00"/>
<circle cx="614.1" cy="218.2" r="2.8" fill="#d55e00"/>
<circle cx="609.2" cy="235.1" r="2.8" fill="#d55e00"/>
<circle cx="624.0" cy="188.5" r="2.8" fill="#d55e00"/>
<circle cx="618.7" cy="210.0" r="2.8" fill="#d55e00"/>
<circle cx="639.0" cy="222.1" r="2.8" fill="#d55e00"/>
<circle cx="643.5" cy="215.4" r="2.8" fill="#d55e00"/>
<circle cx="608.0" cy="231.6" r="2.8" fill="#d55e00"/>
<circle cx="618.7" cy="168.1" r="2.8" fill="#d55e00"/>
<circle cx="606.3" cy="234.5" r="2.8" fill="#d55e00"/>
<circle cx="593.2" cy="234.2" r="2.8" fill="#d55e00"/>
<circle cx="639.3" cy="227.4" r="2.8" fill="#d55e00"/>
<circle cx="620.5" cy="182.9" r="2.8" fill="#d55e00"/>
<circle cx="640.1" cy="235.3" r="2.8" fill="#d55e00"/>
<circle cx="595.3" cy="235.3" r="2.8" fill="#d55e00"/>
<circle cx="576.6" cy="235.3" r="2.8" fill="#d55e00"/>
<circle cx="622.7" cy="235.3" r="2.8" fill="#d55e00"/>
<circle cx="575.6" cy="235.3" r="2.8" fill="#d55e00"/>
<circle cx="648.6" cy="235.3" r="2.8" fill="#d55e00"/>
<circle cx="637.1" cy="235.3" r="2.8" fill="#d55e00"/>
<circle cx="601.0" cy="235.3" r="2.8" fill="#d55e00"/>
<circle cx="618.4" cy="235.3" r="2.8" fill="#d55e00"/>
<circle cx="596.2" cy="235.3" r="2.8" fill="#d55e00"/>
<circle cx="591.3" cy="235.3" r="2.8" fill="#d55e00"/>
<circle cx="590.9" cy="235.3" r="2.8" fill="#d55e00"/>
<circle cx="656.8" cy="235.3" r="2.8" fill="#d55e00"/>
<circle cx="619.1" cy="235.3" r="2.8" fill="#d55e00"/>
<circle cx="646.4" cy="235.3" r="2.8" fill="#d55e00"/>
<circle cx="608.1" cy="235.3" r="2.8" fill="#d55e00"/>
<circle cx="655.9" cy="235.3" r="2.8" fill="#d55e00"/>
<circle cx="634.0" cy="235.3" r="2.8" fill="#d55e00"/>
<circle cx="640.0" cy="235.3" r="2.8" fill="#d55e00"/>
<circle cx="612.8" cy="235.3" r="2.8" fill="#d55e00"/>
<circle cx="630.4" cy="235.3" r="2.8" fill="#d55e00"/>
<circle cx="591.8" cy="235.3" r="2.8" fill="#d55e00"/>
<circle cx="673.3" cy="235.3" r="2.8" fill="#d55e00"/>
<circle cx="641.9" cy="235.3" r="2.8" fill="#d55e00"/>
<circle cx="627.4" cy="235.3" r="2.8" fill="#d55e00"/>
<circle cx="638.4" cy="235.3" r="2.8" fill="#d55e00"/>
<circle cx="582.4" cy="235.3" r="2.8" fill="#d55e00"/>
<circle cx="606.8" cy="235.3" r="2.8" fill="#d55e00"/>
<circle cx="596.0" cy="235.3" r="2.8" fill="#d55e00"/>
<circle cx="659.7" cy="235.3" r="2.8" fill="#d55e00"/>
<circle cx="573.3" cy="235.3" r="2.8" fill="#d55e00"/>
<circle cx="618.2" cy="235.3" r="2.8" fill="#d55e00"/>
<circle cx="662.3" cy="235.3" r="2.8" fill="#d55e00"/>
<circle cx="653.4" cy="235.3" r="2.8" fill="#d55e00"/>
<circle cx="646.8" cy="235.3" r="2.8" fill="#d55e00"/>
<circle cx="603.4" cy="235.3" r="2.8" fill="#d55e00"/>
<circle cx="596.2" cy="235.3" r="2.8" fill="#d55e00"/>
<circle cx="645.2" cy="235.3" r="2.8" fill="#d55e00"/>
<circle cx="603.1" cy="235.3" r="2.8" fill="#d55e00"/>
<circle cx="647.2" cy="235.3" r="2.8" fill="#d55e00"/>
</g>
<line x1="515.6" x2="515.6" y1="30.6" y2="240.4" stroke="#707070" stroke-width="1"/>
<line x1="511" x2="679.5" y1="235.5" y2="235.5" stroke="#707070" stroke-width="1"/>
<line x1="511" x2="515.6" y1="235.50" y2="235.50" stroke="#707070" stroke-width="1"/>
<text x="506.5" y="239.00" font-size="9.9" text-anchor="end" fill="#2a2a2a">0</text>
<line x1="511" x2="515.6" y1="194.52" y2="194.52" stroke="#707070" stroke-width="1"/>
<text x="506.5" y="198.02" font-size="9.9" text-anchor="end" fill="#2a2a2a">0.2</text>
<line x1="511" x2="515.6" y1="153.54" y2="153.54" stroke="#707070" stroke-width="1"/>
<text x="506.5" y="157.04" font-size="9.9" text-anchor="end" fill="#2a2a2a">0.4</text>
<line x1="511" x2="515.6" y1="112.56" y2="112.56" stroke="#707070" stroke-width="1"/>
<text x="506.5" y="116.06" font-size="9.9" text-anchor="end" fill="#2a2a2a">0.6</text>
<line x1="511" x2="515.6" y1="71.58" y2="71.58" stroke="#707070" stroke-width="1"/>
<text x="506.5" y="75.08" font-size="9.9" text-anchor="end" fill="#2a2a2a">0.8</text>
<line x1="511" x2="515.6" y1="30.60" y2="30.60" stroke="#707070" stroke-width="1"/>
<text x="506.5" y="34.10" font-size="9.9" text-anchor="end" fill="#2a2a2a">1.0</text>
<line x1="515.60" x2="515.60" y1="235.5" y2="240.4" stroke="#707070" stroke-width="1"/>
<text x="515.60" y="252.2" font-size="9.9" text-anchor="middle" fill="#2a2a2a">0</text>
<line x1="570.23" x2="570.23" y1="235.5" y2="240.4" stroke="#707070" stroke-width="1"/>
<text x="570.23" y="252.2" font-size="9.9" text-anchor="middle" fill="#2a2a2a">0.6</text>
<line x1="624.87" x2="624.87" y1="235.5" y2="240.4" stroke="#707070" stroke-width="1"/>
<text x="624.87" y="252.2" font-size="9.9" text-anchor="middle" fill="#2a2a2a">1.2</text>
<line x1="679.50" x2="679.50" y1="235.5" y2="240.4" stroke="#707070" stroke-width="1"/>
<text x="679.50" y="252.2" font-size="9.9" text-anchor="middle" fill="#2a2a2a">1.8</text>
<text x="597.5" y="267.7" font-size="10.5" text-anchor="middle" fill="#2a2a2a">First step loss</text>
<text transform="translate(484.7,136.3) rotate(-90)" font-size="10.8" fill="#2a2a2a"><tspan font-style="italic">r</tspan><tspan font-size="7" dy="-4.2">2</tspan></text>
<text x="537" y="71" font-size="10.6" fill="#2a2a2a"><tspan font-style="italic">ρ</tspan><tspan font-size="7.4" dy="2.7" dx="0.3">P</tspan><tspan x="549.6" dy="-2.7">= 0.01</tspan></text>
</svg>
</body></html>
